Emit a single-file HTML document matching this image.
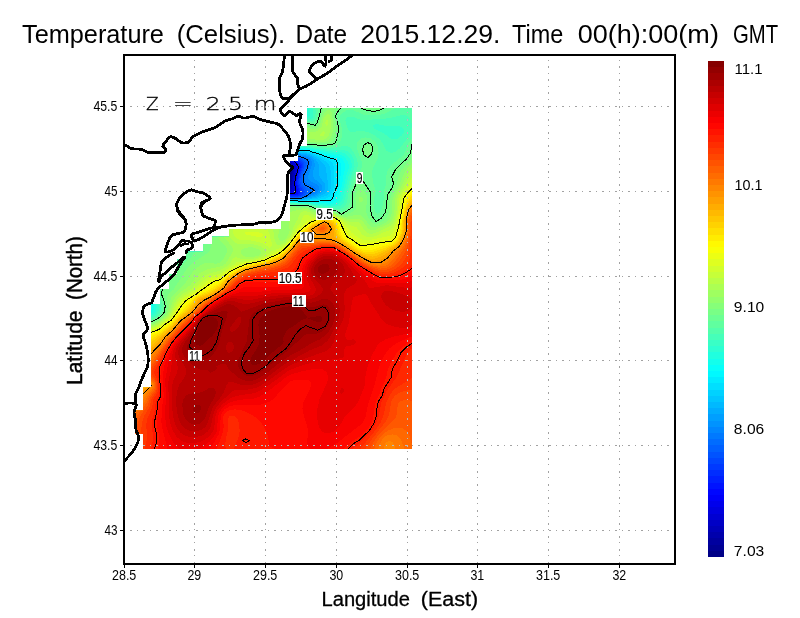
<!DOCTYPE html>
<html lang="en"><head><meta charset="utf-8"><title>Temperature (Celsius)</title>
<style>
html,body{margin:0;padding:0;background:#fff;}
body{width:800px;height:618px;overflow:hidden;}
svg{display:block;}
text{font-family:"Liberation Sans","DejaVu Sans",sans-serif;fill:#000;}
.tk{font-size:14px;}
.cb{font-size:14px;}
.cl{font-size:14px;stroke:#000;stroke-width:0.15px;}
.ti{font-size:26px;}
.ax{font-size:20px;stroke:#000;stroke-width:0.3px;}
.ay{font-size:21.5px;stroke:#000;stroke-width:0.45px;}
.z{font-size:18.5px;font-family:"DejaVu Sans","Liberation Sans",sans-serif;font-weight:200;stroke:#000;stroke-width:0.3px;}
.g{stroke:#a2a2a2;stroke-width:1;fill:none;shape-rendering:crispEdges;}
.g2{stroke:#b4bcbc;}
</style></head><body>
<svg width="800" height="618" viewBox="0 0 800 618">
<rect x="0" y="0" width="800" height="618" fill="#fff"/>
<defs><clipPath id="dm"><path d="M307 108 412 108 412 449 143 449 143 433.7 135 433.7 135 410.6 143 410.6 143 387.4 151 387.4 151 304.3 160 304.3 160 288.9 169 288.9 169 274.3 177.3 274.3 177.3 259.3 186 259.3 186 251.8 203.4 251.8 203.4 244.2 212.2 244.2 212.2 236.8 229.3 236.8 229.3 229 281.2 229 281.2 221 290 221 290 161 298.2 161 298.2 146 307 146z"/></clipPath></defs>
<g clip-path="url(#dm)" shape-rendering="crispEdges">
<rect x="130" y="104" width="286" height="349" fill="#000087"/>
<path fill="#000097" fill-rule="evenodd" d="M415 452.1l-285.1-0.1 0.1-286.7 1.5-2.1 0.2-2.2 1.3-1.2 3 1.6 3 0.4 1.1-0.8-3-3-6.5-4.5 0.9-0.9 1.5-0.1 1.5 1.4 1.5 0.1 6 6.1 2.2 0.9-3.5 1.5 1.3 1.5 1.5 0.3 0.1-1.8 1.4-1.4 4.5 2.4 1.8 2-0.3 0.5-1.5-0.1-1.2 1.1 2.7 1.6 4.5 4.5 1.5 0.4 5.9 4 1.6 0.3 4.3 4.2 1.7 0.3 4.5 3 4.4 4.2 1.6 0.3 4 2.7 1.7 0-1.2-3-1.5-0.9-3.1-3.6-4.4-2.2-2.3-2.3-2.2-0.4-9-6.9-1.5-1.9-1.5-0.5-3.7-3.8 0.7-0.6 3-0.4 1.7 1 4.3 1.1 3 2.2 4.5 1.9 3 2.3 7.5 3.9 4.5 3.6 3 0.6 0.3-0.6-1.5-3-3.3-3.2-12-5.4-12.2-7.9-4.3-2-5.2-4-3.8-1.5-1.5 0.6-1-0.6-0.5-1.1-1.5 0-6.4-4.9-2.6-0.8-1.5-1.3-4.5-2.1 0-3.7 1.1-1.1 0.5-1.5-1.6-2 0-5.3 1.5 0.3 6 2.9 1.5 0.2 1.5 1.2 1.5 0.1 1.8 1.1 2.7 0.6 14.8 6.9 3.2 0.6 1.5 1 7.9 2.9 8.6 0.4 3 1.2 15 2 7.5-1 9 2.5 3 2.6 7.5 4.7 3 3.4 3.1 2.2 1.3 1.5-1.1 3 1.7 1.5 13 5.6 4.5 2.7 4.5 4 3 1 3 1.9 3 0.7 6-0.9 12 0 3.8-1.5 2.2-4.1 0.8-3.4 0.2-6-0.8-4.5-2-3-4.2-3-4.5-1.5-12-2.4-0.9-0.6 0.2-3-5.3-1.8-6-6.4-2.2-3.8-0.2-6 0.9-0.8 6-0.7-2-10.5-0.8-3-3.6-6-1.4-4.5-6.5-7.5 168.8 0 0 348.1zM154 135.6l-1.4-0.1 1.4 0.1zM178 143.9l-4.5 0.1-3-1.5-9-0.8-3-1.4-3.6-3.3 2.1-0.5 3 1.2 7.5-0.2 3 0.5 4.5 1.5 2.8 2 1.2 1.5-1 0.9z"/>
<path fill="#0000a7" fill-rule="evenodd" d="M415 452.1l-285.1-0.1 0.1-280.5 1.2-1.5 1.8-4.5 0-4.6 7.5 2.1 1.5 1.4 1.5 0.3 0.6-0.7-0.1-1.5 1-1 4 2.5-1 1.6 0 1.7 4.5 3.1 3 2.9 9 4.9 4 3.8 2 0.6 4.5 3 4.2 3.9 7.8 4.3 2.1 0.2-0.9-1.5-2.1-3-4.6-4.5-3.5-1.8-3.1-2.7-2.9-0.7-7.5-5.7-3-3.2-3.4-2.4-0.8-1.5 2.7-0.5 1.5 0.9 3 0.6 9 4.8 4.5 3.3 4.5 1.9 7.5 5.5 3 0.9 1-0.9-2.4-4.5-5.8-4.5-10.8-4.7-11.5-7.3-5-2.6-4.5-3.4-4.5-2.3-3-2.2-3 0.2-0.9-1.7-2.1-0.6-7.5-4.9-1.7-0.5-1.3-1.2 0-0.6 1.5 0.1 1.2-1.3 0.5-1.5-0.3-1.5-2.9-3.1 0-3.8 19.5 7.8 10.8 5.1 4.2 1.2 9 3.7 7.5 0.4 4.5 1.3 13.5 1.4 1.5 0.6 6-1 6 0.9 4.5 1.8 3 2.6 7.8 5.1 1 1.5-0.5 3 2.7 1.5-0.2 1.5 2.9 3 13.9 6 9.9 7.3 9 3.4 6-0.7 12 0.1 4-1.1 2-3 1.5-6 0.4-7.5-0.4-3-1.7-3-2.8-2.7-11.9-4.8-3.1-1.7-1-1.3-8-3.9-6.1-6.6-1.1-3-0.3-3.7 1-0.8 5.2 0-2.5-12-0.9-3-2.9-4.5-2.1-6-7-7.5 168.2 0 0 348.1zM175 143.1l-4.5-1.8-7.1-1.3 4.1-1.6 6 1.4 2.9 1.7-0.3 1.5-1.1 0.1zM133 154.4l-1.8-0.9 1.8-0.5 0.5 0.5-0.5 0.9zM137.5 157.5l-1.5-0.5-2.6-2 1.1-0.7 1.5 0.2 2 2-0.5 1zM140.5 160.5l-1.5-0.9-1.2-1.6 1.2-0.8 2.2 2.3-0.7 1z"/>
<path fill="#0000b7" fill-rule="evenodd" d="M415 452.1l-285.1-0.1 0.1-278.3 4.5-5.1 0.3-1.6-0.7-3 0.4-1.7 3 0.2 3 1.2 1.5 1.1 1.5 0.2 1-1-0.1-1.5 0.6-0.6 3 2.1-0.6 3 3.5 3 1.6 0.7 4.5 3.8 7.5 4 3.8 3.5 2.2 0.9 4.5 3.1 4 3.5 11 6.2 1-0.2-0.1-1.5-8.8-9-4.1-2.1-3-2.7-3-0.8-7.5-5.6-5.7-5.3-0.3-1.5 1.5 0 1.5 0.9 3 0.6 9 4.7 4.5 3.4 4.5 1.8 4.5 3.8 7.5 4.5 1.5 0.7 1.5-0.4 0.1-0.5-4.7-7.5-6.4-4.5-11.5-5.1-18-10.8-10.5-7.4-6-2.1-5.2-3.1-1.3-1.5-0.2-6-3.8-3.9 0-2.7 18 7.2 13.5 6.3 12 4.4 7.5 0.5 4.5 1.2 12 1.1 3 1 1.5 0 3-1.1 6 0.4 5.3 2.1 5.7 4.5 1.4 1.5-0.4 3.2 6.5 7.3 7 3.7 10.5 4.4 9 7.3 12 3.7 18-0.7 3-0.7 1.5-1.2 0.6-1.5 1.3-6 1-9-0.7-4.5-3.7-4.6-10-4.4-2-1.6-10.9-5.9-5.9-6-2-4.5 0-1.5 0.8-0.4 4.5 1.2 0.7-0.8-3.9-15-3.4-6-2.2-6-4.7-4.4-2.4-3.1 167.4 0 0 348.1zM134.5 155.3l-0.5-0.3 0.5-0.3 1.4 0.3-1.4 0.3zM137.5 156.6l-1.5 0 0-1.3 1.5 1.3zM139 158.8l-0.6-0.8 0.6-0.4 0.4 0.4-0.4 0.8zM140.5 159.9l-0.6-0.4 0.6-0.2 0 0.6z"/>
<path fill="#0000c7" fill-rule="evenodd" d="M415 452.1l-285.1-0.1 0.1-272.2 1.5-0.8 0.2-3 4.3-4.8 0.3-4.2-0.7-3 0.4-0.6 3 0.4 3 1.5 1.5 0.1 1.3-1.4 0.2-1.7 2.5 1.7-0.4 3 2.4 2.3 3 1.6 4.2 3.6 7.8 4.4 3.6 3.1 6.9 4.3 3.7 3.2 11.3 6.9 1.5 0.6 2.5-1.5-5.5-4.4-5.9-6.1-4.6-2.4-3-2.7-3-0.8-7.5-5.7-4.9-4.9 0.4-0.5 6 1.5 7.5 4 4.5 3.6 6 2.7 3 2.9 6 3.3 3 2.4 3 0.9 1.2-1.3-2.7-6-3.4-3-7.1-4.6-12-5.4-6-3.5-12-7.3-10.5-8-6-2.1-3.4-2.1-2.3-7.5-4.4-4.5 1.1-0.8 1.5 0.4 4.5 2.1 10.5 3.7 13.5 6.3 3 0.7 9.8 4.1 8.2 0.3 3 1.2 12 0.8 3 1.1 1.5 0 3-1.1 6 0.4 4.2 1.8 3.2 3 1.4 1.5 3 6 5.6 6 18.6 9.4 3.4 2.6 1.1 2.6 1.5 1 15 4.3 19.5-0.7 3-0.8 1.4-1.9 2.5-16.5-0.4-4.5-1.9-3-3.1-2.9-7.5-3.2-4.5-2.9-6-3-4.1-3-4.4-4.5-1.2-3 4.3-1.5 0.1-1.5-2.6-7.5-1.2-6-3.8-7.5-1.6-4.5-2.2-3-3.6-3-2.4-3 166.7 0 0 348.1zM130 133.5l0-1.2 0.7 0.2-0.7 1z"/>
<path fill="#0000d7" fill-rule="evenodd" d="M415 452.1l-285.1-0.1 0.1-270.4 1.5-0.6 1.9-3.5 4.1-3.6 0.8-2.4-0.8-3 0.4-3 1.1-0.4 4.5 0.8 3-2.4 0.5 0.5-0.2 3 1.2 1.5 4.5 2.7 3.9 3.3 8 4.5 14.1 10.5 11.5 7.5 4.5 0.6 1.6 0.9 1.4-0.4 0.2-1.1-1.3-1.5-1.9-0.7-5.2-3.8-6-6-5.3-2.8-3-2.6-2.4-0.6-2.1-1.4-6.1-4.6-2.2-3 2.3-0.6 9 4.4 4.5 3.7 4.5 1.7 4.5 3.9 10.5 6.7 3 1.3 3.1-1.6-2.5-3-1.8-4.5-1.8-1.5-10.5-6.4-12-5.5-17.7-10.6-7.6-6-4.7-5.3-1.5-0.7-1.5 1-1.5-0.9-3.1-6.1 0.1-1.8-1.5-0.6-2.3-2.1 2.3-0.1 1.5 1.5 3 0 4.5 1.6 16.5 7.6 3 0.5 9 4.1 7.5 0.2 4.5 1.3 12 0.9 3 1.1 1.5 0 3-1.2 6 0.5 3.1 1.5 4.7 4.5 2.7 5.3 6 6.7 9 5.8 12 6.1 0.9 1.6-0.9 1.5 1.6 1.5 19.4 4.5 19.5-1 2.1-0.5 1.7-1.5 0.4-6 2.3-13.5-0.5-3.7-4.5-5.4-9-4.1-9-5.2-3.5-2.6-4.4-4.5-0.6-1.5 1-1.2 2-0.3 0.4-1.5-2.7-7.5-1.7-7.5-3.7-7.5-0.9-3-3.5-4.5-4.8-4.5-0.7-1.5 165.6 0 0 348.1zM133 134.3l-0.4-0.3 0.4 0.3z"/>
<path fill="#0000e7" fill-rule="evenodd" d="M415 452.1l-285.1-0.1 0.1-263.9 0.9-0.1 0.6-1 0.1-3.5 0.7-1.5 2.2-2.7 3.6-1.8 0.9-2.2 0.6-3.8-0.6-3 1-1.5 3.5-0.5 1.5-1 2.5 3 5 3 3.6 3 6.9 3.7 4.6 3.8 5.9 3.5 4.8 4 11.7 7.8 4.2 1.2 1.7 1.5 2 0 1.2-1.5-1.6-3.1-7.5-4.7-6.1-5.7-5.7-3-3.2-2.7-4.2-1.8-5.9-4.5-1.1-1.5-0.1-1.5 0.8-0.2 3 1.2 6 3.1 4.5 3.9 4.5 1.5 4.5 4.1 5.3 2.9 3.7 3.5 4.3 2.5 3.2-0.7 1.2-2.3-4.2-7.5-1.9-1.5-11.6-6.8-14.2-6.7-14.8-9-5.8-4.5-12.2-15 0.5-0.4 3 0.2 4.5 1.6 13.5 6.5 3 0.5 9 4.1 7.5 0.1 4.5 1.4 12 0.8 3 1.2 1.5-0.1 3-1.1 3 0 4.5 1.3 5.5 4.9 3.2 6 3.2 4.5 6.7 4.5 5.4 4.7 8.8 4.3 1.6 1.5-0.3 1.5 1 1.5 3.9 1.8 12 1.7 7.5 1.9 7.5-0.8 12-0.3 3-1.3 0.6-1.5-0.2-6 2.7-15-0.6-3-5.5-5.8-7.3-3.2-7.9-4.5-4.3-2.9-3.2-3.1-0.8-1.5 2-1.5 0.3-1.5-3.4-9-2.5-9-4-9-6.9-7.5-1.8-3 164.3 0 0 348.1z"/>
<path fill="#0000f7" fill-rule="evenodd" d="M415 452.1l-285.1-0.1 0.1-263 1.5 0.6 1.8-0.1 0.5-6 0.7-1 4.5-2.7 1.3-2.3 0.9-7.5 3.8-3.5 3.9 3.5 3.6 1.8 4.5 3.4 6 3.1 4.5 3.8 6 3.6 4.6 3.8 11.9 8 3 1 2.1 1.5 3.9 1 1.6-1-0.3-1.5-2.8-4-3.1-2-1.3-1.5-3.1-1.2-5.4-4.8-5.6-3-2.5-2.4-5-2.1-4-3.4-2.1-1.1-1.1-1.5 0.2-0.6 3 0.5 6 3 4.5 4.1 2.4 0.5 3.2 1.5 3.4 3.7 4.8 2.3 3 3 0.4 1.5 0.8 0.7 4.5 1.6 1.5-0.3 1.5 1.1 3 0.3 0.6-0.4-1.9-6-3.7-6-14.5-8.6-13.5-6.4-16.5-10.3-5.1-4.7-2.9-4.5-6.5-7.5 1-1 7.5 2.5 10.5 5.1 3 0.5 9 4.2 7.5 0.1 4.5 1.3 12 0.9 3 1.1 4.5-1.1 3 0 4.5 1.4 5.9 6 2.6 6 0.5 3 4.5 1.9 4 2.6 6.3 6 8.1 4.5 2.6 3.7 4.5 2 13.5 1.9 6 1.6 7.5-0.9 12 0 3.4-0.8 1.3-1.5-0.6-7.5 1.1-7.5 1.9-7.5-0.4-3-5.6-6-14.4-7.5-4.3-3-2.9-3 1.2-3-3.7-9-2.5-9-3.8-9-7.7-9-1.6-3 163.1 0 0 348.1z"/>
<path fill="#0008ff" fill-rule="evenodd" d="M415 452.1l-285.1-0.1 0.1-262 4.9 2.5 1-7.5 3.1-2 0.7-1 2.4-4.5 0.2-4.5 4.2-4.1 6 3.2 4.5 3.3 6 3.1 4.5 3.7 6 3.6 4.5 3.8 12 8.1 3 1.1 4.5 2.6 3 0.9 1.8-2.3-2.3-3-1.2-3 3.2 0 7.5 1.8 1.6-0.3-2.2-1.5-0.8-3-3.8-7.5-1.7-1.5-17.1-9.7-11.1-5.3-16.7-10.5-4.1-4.5-4.1-6.9-4-3.6 1-1 3.7 1 11.3 5.4 3 0.5 9 4.3 7.5-0.1 3 1.2 9 0.5 7.5 1.7 4.5-0.8 3 0 3.5 0.8 5.5 5.2 1.6 3.8-4.2 3 2.6 1.1 5 3.4 4 1.1 3 1.9 3.4 3 2.6 3.3 7.5 4.8 3 3.3 6 2.5 19.5 3.4 9-0.8 13.4 0 3-1.5 0.4-1.5-1.3-6-0.1-3 1-6 2.2-7.5-0.1-3-2-2.8-3.6-3.2-14.4-7.9-4.8-4.1-0.8-1.5 0.3-1.5-0.5-1.5-3.5-7.5-3.2-10.5-3.8-9-5.3-6-3.8-6 161.9 0 0 348.1zM145 140.3l-0.7-0.3 1 0-0.3 0.3zM175 178.4l-3-1-4.5-3.9-1.5-0.5-0.4-1.5 7.3 3 3.4 3-1.3 0.9zM187 185.6l-7.1-3.6-2-1.5 0.1-1.1 1.5-0.3 3.7 1.4 4.5 4.5-0.7 0.6zM191.5 189.1l-1.5-0.1-2.4-2.5 0.9-1 2.5 1 1.6 1.5-1.1 1.1z"/>
<path fill="#0018ff" fill-rule="evenodd" d="M415 452.1l-285.1-0.1 0.1-260.7 2.3 1.2 3.7 3.3 0.9-0.3 0.6-1.5 0-6 1.5-2 1.6-1 1.3-4.5 1.6-1.5 0.7-1.5 0-3 3.8-3.8 4.5 1.8 3 2.3 7.5 3.8 4.5 3.8 6 3.5 4.5 3.8 12 8.2 3 1.1 6.5 4 2.1 0 2.2-1.5-0.1-1.5-2.9-3-0.6-1.5 0.3-0.4 1.5-0.3 10.8 2.2-1.8-4.4-2.3-3.1-0.7-3 1.5-0.8 1.5 0.1 0.8-0.8-2.3-1.8-4.5-0.7-3-1.4-15-8.6-11.7-5.5-12.3-7.5-5.2-4.5-5.5-9-3.9-3 1.1-1.1 12 5.3 2.5 0.3 3.7 1.5 5.8 3 7.5-0.2 3 1.2 8.8 0.5 7.7 2.1 4.5-0.9 4.8 0.3 4.1 3 2.1 3 0 1.5-0.5 0.2-6 1.3 0 1.5 1.5 3 7.5 2 3 1.6 3.6 0.9 3.9 2.5 3 2.6 3 3.8 4.7 3.1 1.3 2.1 3 2.9 13.5 3.5 13.5 2 9-0.8 15 0 2.2-0.7 1-1.5 0-1.5-1.8-6-0.2-3 1-6 2.6-9-0.8-3-7-6-12.9-7.5-2.4-3-6.5-12-2.6-9-4.6-10.5-5.5-6.2-3.3-5.8 160.8 0 0 348.1zM148 142.5l-1-1 2 0-1 1zM173.5 177.5l-3.6-3 2.1-0.1 2.2 1.6-0.7 1.5zM175 177.8l-1.4-0.3 1.4-0.5 0.4 0.5-0.4 0.3zM184 183.7l-5.1-3.2 0.6-0.5 3 0.4 1.8 1.6 0.4 1.5-0.7 0.2zM188.5 186.6l1.4-0.1-1.4 0.1zM191.5 188.3l-1.9-0.3 0.4-1.5 1.8 1.5-0.3 0.3z"/>
<path fill="#0028ff" fill-rule="evenodd" d="M415 452.1l-285.1-0.1 0.1-257.4 1.5-0.2 6 3.8 1.3-1.2 0.6-7.5 1.1-1.3 1.5-0.4 0.8-1.3 0.1-3 0.6-1.3 3-0.7-0.4-4 0.4-1.5 1.5-1.5 0.2-1.5 1.3-1.1 3 0.9 3 2.4 7.5 3.6 4.5 3.7 6 3.5 4.5 3.9 12 8.2 3 1.2 7.5 4.5 1.5 0.1 3.6-2.4-0.5-1.5-3.1-3 1.5-1 4.5 0.4 6 1.5 1.5-0.3 0-1.1-1.5-1.3-1-2.7-2.2-3 1.7-1 3 0.6 2.9-1.1-3.9-3-2-0.7-3-2.1-7.5-1.7-22.5-12.8-3-0.8-2.2-1.4-1.5-1.5 2-1.5-0.1-4.5-5.7-2.2-4.5-2.5-0.8 0.2 3 3 1.6 3-0.8 1.2-2.7-1.2-1.9-1.5-3.3-4.5-1.6-4.5-2.5-1.5-3.3-3 0.3-0.3 2.2 0.3 3.8 1.9 8.2 2.6 6.8 3.9 7.5-0.7 3 1.1 7.5 0.3 6.3 1.4 2.7 1.2 4.5-0.4 2.6 0.7 1.1 1.5 0.2 1.5-2.2 3 2.5 6 4.8 2.4 4.5 0.4 10.5 5.3 2.8 2.4 2.3 3 4.2 3 2.8 4.5 2.9 2 21 4.2 6 0.3 10.5-0.7 15 0.2 2.8-1.5 0.6-1.5-2.5-7.5-0.3-3 0.8-6 2.9-9-0.5-3-2.8-3-16.4-10.5-4.1-4.5-5.1-9-3.3-10.5-4.7-10.5-6.4-7.5-2.3-4.5 159.8 0 0 348.1zM169 161.2l-1-0.2 1-0.5 0 0.7zM181 180.7l-0.4-0.2 0.4 0.2zM182.5 182.3l-0.5-0.3 0.5-0.7 1 0.7-1 0.3z"/>
<path fill="#0038ff" fill-rule="evenodd" d="M415 452.1l-285.1-0.1 0.1-228.4 1.4-1.1 0.4-1.5-0.6-1.5-1.2-1 0-16.8 1.5-2.6 1.5-0.8 6 1.8 0.7-0.1 0.8-1-0.3-3.5 0.4-1.5 1.4-2.4 2.1-2.1 0.9-3.9 3-1.3 0.5-0.8-0.1-4.5 1.7-3-0.2-3 1.9 0 3.7 2.5 7.5 3.4 4.5 3.8 6 3.5 4.5 3.8 12 8.4 3 1.1 7.5 4.9 3 0.1 2.7-1.5 0.8-1.5-0.8-1.5-2-1.5-0.7-1.5 3-0.3 7.5 2 3.7-0.2-0.7-3 1.1-1.5-0.8-1.5 2.7-2.2 6-0.5 0.4-0.3-0.6-1.5-2.8-1.4-6-0.9-4.5-2.2-3-2.2-5.6-0.8-3.5-1.5-10.4-6-3-2.4-2.2-0.6-2.2-1.5-1.8-3-1.3-0.7-3-3.8 0.2-1.5 1.7-3-1.9-1.4-1-1.6 5.5-0.8 3 1.1 7.5 0.3 4.2 0.9 4.7 3 2.8 3 0.2 3 6.2 6 4.4 1.8 4.5 0.4 10.5 5.7 3.9 4.1 4.1 3 1.2 1.5 0.5 3 5.3 3 10.5 1.6 10.5 2.6 16.5-0.7 12 0.4 4.5-0.5 3-1.9 0.5-1.5-3-7.5-0.5-3 1.2-7.5 2.6-7.5-0.2-3-2.4-3-16.7-10.5-4.3-4.5-5.2-9-3.3-10.5-4.1-9-1.9-3-5.2-6-2.3-4.5 158.8 0 0 348.1zM170.5 155.1l-7.5-3.9-4.7-3.7 6.2 1 4.3 2 2.9 3-0.5 1.5-0.7 0.1z"/>
<path fill="#0048ff" fill-rule="evenodd" d="M415 452.1l-285.1-0.1 0.1-225.5 1.5-0.3 1.5-1.2 0.8-2.5-3.8-7.8 0-6.6 4.5-6.3 3-0.3 3 1.5 1.5 0 0.5-1.5-0.5-4.7 1.5-2.5 1.9-1.8 1.5-4.5 1.1-1 1.5 0 0.7-0.5-0.1-3 1.5-4.5 0.4-4.5 6.5 2.3 4.5 2.3 4.5 3.7 6 3.5 4.5 3.9 11.9 8.3 3.1 1.3 9 5.4 3-0.2 3.1-2 0.1-1.5-2.6-3 0.9-1 1.5 0 7.5 1.9 4.5 0.2 1-1.1-0.4-1.5 0.7-4.5 9.2-1.1 9 0.6 7.5 2.3 9 1.1 9 2 18-0.8 10.5 0.4 4.5-0.4 3.2-1.1 1.5-1.5 0.4-1.5-0.2-1.5-3.2-6-0.6-3 0.6-6 3.3-9-0.5-4.2-3-2.8-13.8-8-3.7-3-3.5-4.1-4.5-7.9-3.3-10.5-4.1-9-7.6-9.8-1.5-3.7 157.5 0 0 348.1zM167.5 152.2l-5.5-3.2 2.5-0.1 1.5 1.2 1.8 0.4 0.2 1.5-0.5 0.2zM230.5 189.3l-1.5-0.2-1.5-1.6-3-1.8-6.9-0.7-9.6-5.1-5.8-0.9-2.3-1.5-6.9-4.9-7.2-8.6-1.8-0.8-2.7-2.2 1.2-0.3 0.7-2.7-4.9-4.5 2.7-0.2 3 1.1 9 0.4 3.4 1.7 1.8 1.5 2.2 3-0.9 1.5 1 2.6 3 1.1 4.9 3.8 4.1 2.1 5 0.9 2.5 1.1 4.5 3.1 3.9 1.8 3.6 3.9 3.2 2.1 0.7 1.5-3.9 1.1-1.5 1.7zM202 174.5l0.1-1.5-0.9-1.5-4-1.5-0.3 1.5 0.9 1.5 2.7 1.8 1.5-0.3z"/>
<path fill="#0058ff" fill-rule="evenodd" d="M415 452.1l-285.1-0.1 0.1-221.7 4.5-2.7 1.5-2.1 0.2-1.5-4.2-9-0.5-1.5 0.4-1.5 4.1-6 3-0.7 3 0.8 1.5-0.2 0.8-2.9-0.6-4.5 3.6-4.5 1.2-3 1-1 3.3-0.5-0.8-4.5 1.1-3 0.4-4.5 0.5-1 4.5 0.5 4.5 2.3 4.5 3.7 6 3.4 4.5 3.9 12 8.4 1.5 0.4 9 5.8 3 1.2 3-0.2 1.5-1 1.4-1.9 0-1.5-2.3-3 2.4-0.2 6 1.6 7.5 0.8 1.5-0.7-0.7-1.5-0.1-3 0.8-1.3 1.2-0.2 7.8-0.6 7.5 0.3 7.5 2.1 18 2.4 9-0.2 7.5-0.9 13.5 0.3 3-0.4 3.4-1.5 1.4-1.5 0.6-1.5-0.1-1.5-3.8-6-0.8-4.5 0.9-6 3.1-7.5-0.1-4.5-1.1-1.5-2.1-1.5-5.9-2.5-8.2-5-3.6-3-3.9-4.5-4.3-7.5-2.7-9-3.9-9-7.4-10.5-1.4-4.5 155.4 0 0 348.1zM199 167.9l-6-1.7-8.3-5.2 0.4-3-0.4-3 6.8 0 3 1.5 2.2 3-0.8 1.5 0.7 1.5 1.8 1.5 2.1 3-1.5 0.9zM223 183.6l-3 0.5-3-0.5-4.5-2.3-6-4.1-1.5-1.6-3-6.4-1.5-0.7 0.6-1.5 0.9 0 1.7 1.5 7.3 3.7 6.7 2.3 6.8 4.6 3 1.2 0.8 1.7-3.8 0.3-1.5 1.3z"/>
<path fill="#0068ff" fill-rule="evenodd" d="M415 452.1l-285.1-0.1 0.1-199.9 1.5-1.9 0.6-2.2-0.9-7.5-0.6-1.5 0.2-3 2.2-4.2 3-1.8 1.4-1.5 0.9-3-3.9-9-0.2-1.5 3.3-5 3-1 3 0.3 1.5-0.5 0.9-2.8 0-6 2.1-3.6 1.7-0.9 1.3-2.7 3-0.9 0.3-0.9 0.2-4.5 0.8-1.5-0.2-4.5 1.3-3 0.6-0.1 1.5-0.1 4.5 2.3 4.5 3.5 6 3.5 4.5 3.9 12 8.3 1.5 0.5 10.5 6.8 4.5 1.3 1.5-0.3 2.7-4.1-0.2-1.5-1.5-1.5 0.5-0.7 13.5 2.5 3 0 1-0.3-0.4-1.5 0.3-1.5 1.2-1.5 0.9-0.9 3-0.8 10.5 0 7.5 2 18 1.6 7.5-0.2 7.5-1.1 15 0.1 3.8-0.7 2.8-1.5 1.5-1.5 1-3-0.6-1.5-4-4.8-0.8-2.7-0.2-3 0.8-4.5 3.3-7.5 0.5-3-0.6-2.4-2.1-2.1-8.4-3.3-7-4.2-3.7-3-4-4.5-4.3-7.5-2.7-9-4-9-6.2-9-1.4-6 153.3 0 0 348.1zM197.5 165.9l-2.7-0.4-2.7-1.5-0.6-0.8-4.5-2.2-0.5-1.5 0.5-0.5 0.9 0.5 3.6 2.7 3-0.1 3 2.7 0.4 0.7-0.4 0.4zM214 179.3l-1.5-0.3-6-4.2-1.5-1.9-0.4-1.4 0.4-0.6 2.9 0.6 5.9 3 1.3 1.5 0.4 1.5-0.5 1.5-1 0.3z"/>
<path fill="#0078ff" fill-rule="evenodd" d="M415 452.1l-285.1-0.1 0.1-195.6 3-3.9 0.9-3-0.6-12 1.5-3 4.2-3.6 1.5-2.4 0.3-1.5-3.6-7.5 0-3 1.8-2.7 7.9-3.3 1.2-3-0.4-4.5 1-3 0.8-0.9 2.1-0.6 1.6-3 2.6-1.5 0.1-3 1.7-4.5-0.3-3 0.7-3-0.2-1.5 0.7-1.1 4.5 2 3 2.4 7.5 4.5 4.5 3.8 11.3 7.9 6.7 3.7 3 2.3 3 1.8 6 1.9 4-3.7 0.2-1.5-0.6-1.5 0.9-1.2 15.4 2.7 1.1-0.5 0.7-2.5 0.8-0.8 4.5-2.2 9-0.2 6 1.9 3 0.3 15 0.7 7.5-0.3 7.5-1.3 12 0.2 6-0.5 2.6-0.8 4.6-3 2.7-3-0.2-1.5-5.8-4.5-1.5-3-0.3-3 0.7-4.5 2.4-4.5 1.4-4.5 0.3-3-0.5-1.5-1.3-1.5-2.1-1.1-9-2.9-3.6-2-6.1-4.5-3.9-4.5-4.4-7.5-2.8-9-4.1-9-5-7.5-1.5-7.5 151.4 0 0 348.1z"/>
<path fill="#0087ff" fill-rule="evenodd" d="M415 452.1l-285.1-0.1 0.1-190.6 5.5-8.9 0.5-7.5-0.8-4.5 0.5-1.5 1.7-3 3.4-3 2.5-4.5-3.4-6-0.4-3 1-1.5 3-1.3 1.6-1.7 2.9-1.6 2.2-4.4-0.2-3 1-2.9 3-2.2 3.8-3.9 0.4-1.5-0.3-3 1.3-3 0.8-9.9 3 0.6 3 2.4 7.5 4.4 4.5 3.7 12 8.4 6 3.2 6 4.3 6 2.4 1.5-0.3 4.5-3.7-1-3.5 1-0.3 15 2.6 2.8-0.8 0.2-1.6 4.5-2.4 9-0.5 6 2 12-0.5 6 0.5 7.5-0.5 7.5-1.5 15.2 0 4.3-1 4.5-2 5.6-3 1.9-2 0-2.5-1.7-1.5-7.1-3-1.8-3-0.1-4.5 3.9-9 0.7-3-0.3-3-1-1.5-2.1-1.5-10-2.7-4.5-2.1-5.6-4.2-4-4.5-4.3-7.5-3-9-3.4-7.5-3.9-6-2.8-10.5 150 0 0 348.1z"/>
<path fill="#0097ff" fill-rule="evenodd" d="M415 452.1l-285.1-0.1 0.1-186 1.5-1.6 5.9-10.4-0.1-4.5 0.8-3-0.6-4.6 2.6-4.4 5-6 0.4-1.5-1-3-2.2-3-0.2-1.5 2.9-2.1 2.1-2.4 2.6-1.5 2.5-6 0.3-4.1 4.4-3.4 3.1-4.4 0.5-4.6 1-1.5-0.1-4.5 0.7-1.5-1.1-6 2-0.1 3 2.6 7.5 4.2 15.4 11.3 7.1 4 6 4.3 5.1 2.2 2.4 0.4 1.9-0.4 4-3-0.5-3 0.6-0.8 1.5-0.1 13.5 2.6 3-0.4 3-2.5 1.5-0.5 7.5-1.2 4.5 1.6 4.5 0.1 9-0.8 7.5 0.2 6-0.6 7.5-1.6 16.5-0.2 6.6-1.8 7.4-3 2.2-1.5 1.8-3-0.3-3-1.2-1.5-7.5-4.2-1.5-1.8-0.2-3 3.9-12-0.5-3-0.9-1.5-1.6-1.5-3-1.5-9.7-1.9-3-1.3-4.3-2.8-4.7-4.5-4.8-7.5-3.7-10.5-6.7-13.5-0.9-6-2-4.5 148.6 0 0 348.1z"/>
<path fill="#00a7ff" fill-rule="evenodd" d="M415 452.1l-285.1-0.1 0.1-181.8 3-3.4 6-10.6 0.1-5.2 1-3-0.1-4.5 2.7-4.5 5.3-6.1 0.4-1.4-1.9-3.2-0.6-2.8 3.6-4.9 2.4-1.1 1.8-6 0.6-4.5 4.2-2.8 3.6-4.7-0.1-3 1.3-3 1-6-0.8-4.5-1.1-3 0.6-0.5 1.1 0.5 8 4.5 16.6 12 7.3 4.1 6 4.4 4.5 2.1 6 1.6 1.5-2 3-1.2-0.7-3 0-1.5 0.7-0.2 15 2.7 7.3-1 2-1.5 4.2-0.8 6 0.9 13.5-1.2 6 0.2 13.5-2.7 18-0.4 13.5-3.9 3.7-2.6 2-3 0.3-3-0.6-1.5-2.4-2.7-4.4-3.3-1.8-3 0.4-4.5 1.8-6-0.9-4.5-2.6-3-3-1.8-3.5-1.2-8.5-1.2-3-1.2-4.5-3.1-3.5-3.5-4.8-7.5-3.2-9-5.6-12-1.3-7.5-2.3-6 146.7 0 0 348.1z"/>
<path fill="#00b7ff" fill-rule="evenodd" d="M415 452l-285.1 0 0.1-173.3 2.4-3.7 1-4.5 2.1-3 5-9.9 2-11.1 1.7-4.5 3.8-4.8 3.2-2.7-0.1-1.5-2.1-4.5 0.3-1.5 1.7-2.8 3.1-1.7 1.7-6-0.1-4.5 4.3-2.8 4.5-5.2-0.2-4 1.8-3 0.2-4.5-1.6-7.5 1.3-0.9 3 0.8 19.5 13.6 7.5 4.3 6 4.4 10.5 4.3 1.5-0.4 1.5-1.7 3-1 0.7-0.9-0.2-1.5-1.3-1.5 0.8-0.5 4.5 0.3 7.5 1.8 9 0 9-1.6 10.5-0.1 6-1.3 7.5-0.4 13.5-3 16.5-0.2 12-2.5 3-1.1 4.9-3.4 2.4-3 0.6-3-0.8-3-4.3-6-1.2-3 0.2-9-1.4-3-2.2-3-4-3-3.2-1.6-4.5-1.1-7.5-0.7-3-1.2-5.6-4.4-3.6-4.5-2.5-4.5-8.5-21-0.4-6-2.3-7.5 144.4 0 0 348z"/>
<path fill="#00c7ff" fill-rule="evenodd" d="M415 452l-285 0 0-152.5 1.4-3.5-0.7-9 2.6-7.5 2.1-4.5 0.4-3 5.3-10.5 3.5-10.5 0.2-3 1.7-4.4 3-3.8 3.4-2.3 0.9-1.5-2-6 1.2-3 3.4-3 1.6-6 0-3 0.5-0.9 3-1 5.5-7.1 1.1-4.5-0.1-7.5-1.4-7.5 0.9-1.5 6 2.8 4.5 3.8 10.5 7.2 7.6 4.2 5.9 4.5 10.5 4.6 1.5 0.2 1.5-0.3 0.9-1.5 3.8-1.5 0.7-1.5-0.2-1.5 0.8-1 9 1.6 6 0.4 21-1.1 15-2.4 13.5-3.4 15.5-0.1 13-1.9 4-1.1 5.6-3 2.4-2 1.5-2.5 0.5-4.5-1.9-10.5-0.5-6-0.9-3-1.3-1.5-7.1-6-6.8-3.6-4.5-1.3-9-0.8-3-1.2-4.6-3.6-3.6-4.5-3.2-6-6.8-18-0.3-6-2.1-9 142.1 0 0 348z"/>
<path fill="#00d7ff" fill-rule="evenodd" d="M415 452l-285 0 0-144.9 2.2-2.1 1.9-4.5 0.7-6-0.9-4.5 0.7-4.5 3.4-9 0.9-4.5 8-19.5 1.3-6 2.8-3.9 3.4-2.1 1.4-1.5 0.2-1.5-1.6-6 0.4-1.5 0.7-1.5 3-2.1 2.2-8.4 0.8-0.9 3-0.7 4.5-7.4 1.7-4.5-1.3-7.5 0-7.5-0.4-1.5 1.5-0.9 2.7 0.9 4.8 3.9 10.5 7.1 7.5 4.1 6 4.6 10.5 4.7 3 0.6 1.5-1.1 3.8-1.4 1.9-1.5 0.6-1.5-0.3-1.6 13.5 1.9 15-0.2 7.5-0.7 13.5-2.7 13.5-3.7 16.5-0.1 15.6-1.9 8.4-2.9 1.8-1.6 1.7-3 1.3-4.5 0.2-4.5-1.1-13.5-1.7-4.5-3.8-3-8.9-5.2-9-3.4-12-1.3-3.3-2.1-3.1-3-4.8-7.5-6.6-18-1.8-16.5 139.6 0 0 348zM169 188l0-1.6 0 1.6z"/>
<path fill="#00e7ff" fill-rule="evenodd" d="M415 452l-285 0 0-141 4.3-3 3-4.5 0.8-7.5-1-6 1.3-7.5 1.9-4.5 0.8-4.5 3.2-7.5 0.7-3.2 4.6-10.3 1-4.5 1.9-2.4 4.5-3.1 1.3-2 0.3-1.5-1.8-4.5 0.2-1.7 0.9-1.3 2.1-1.3 0.9-1.7 2.5-9 3.8-1.5 1.8-3.2 1.7-1.3 2.1-6 0.5-7.5-1.6-3 0.9-4.5-0.9-3 0.3-1.3 9 5.5 7.5 5.6 7.5 4 6 4.6 13.5 5.8 2.7-0.2 4.8-2.4 2.1-2.1 0.9-1.8 10.5 1.3 16.5 0.2 7.5-1 12-2.8 13.5-4 18-0.2 13.5-0.9 8.8-1.3 3.2-1.5 1.5-2.6 2.5-6.4 1-4.5-0.8-16.5-1.2-4.1-2.4-1.9-9.2-4.5-11.6-4.5-14.3-1.7-5.4-4.3-4.1-6-4.7-12-1.9-7.5-0.4-10.5-1.1-6 137.6 0 0 348z"/>
<path fill="#00f7ff" fill-rule="evenodd" d="M415 452l-285 0 0-138.2 8-4.3 1.7-1.5 1.8-3 0.4-4.5-1.6-9 0-3 2.9-13.5 4.4-12 3.3-6 2.3-7.5 5.3-4.1 2.2-3.4 0.3-3-1.2-3 2.3-3 1.5-4.5 1.9-3 0.6-3 4.4-2.7 3-4 0.3-2.3 2-4.5 0.4-3-1.2-4.5 0.1-4.5-1-6 0.9-0.3 6 3.3 7.5 5.5 7.5 4 6 4.7 12 5.4 4.5 1.1 1.5-0.1 1.1-1.1 3.4-1.4 3-3.3 1.5-0.5 9 1 15 0.5 10.5-1.7 15-4.2 7.5-2.6 42-0.9 3-1 1.7-2.4 4.7-13.5-0.3-18-0.4-3-0.8-1.5-2.2-1.5-25.2-8.7-12-0.9-3-1.4-2.8-2.5-4.2-6-4.1-10.5-1.7-7.5 0.1-10.5-1.3-7.5 135.5 0 0 348z"/>
<path fill="#08fff7" fill-rule="evenodd" d="M415 452l-285 0 0-135.5 12.2-5.5 2.1-1.5 1.9-3 0-3-2.9-13.5 0.2-4.5 1.9-9 3.6-10.5 3.7-6 2.3-7.5 5-4.1 2.6-3.4 1.3-3-0.4-4.5 4.4-10.5 2.6-3 6-5.3 1.4-5.2 0.3-4.5-1.2-7.5 0.1-3-1.1-4.5 0.3-1.5 3.7 1.5 8.5 5.8 7.5 4 6 4.6 12 5.5 6 1.6 1.5-0.1 3.8-1.9 5.2-3.9 24 1.1 10.5-1.9 22.5-7.4 42 0.7 3-1.1 2.2-2.5 4.6-12 0.7-3 1.2-16.5-0.2-3-1-3-1.5-1.8-3-1.7-7.5-1.6-19.5-5.9-12-1-4.5-2.8-4.5-6.2-3.8-10.5-1.2-7.5 0.7-9-1-9 132.8 0 0 348z"/>
<path fill="#18ffe7" fill-rule="evenodd" d="M415 452l-285 0 0-132.1 4.5-3 12-4.5 2.5-1.4 1.2-1.5 0.5-1.5-0.3-3-4.2-13.5 0.1-6 1.3-7.5 3.4-10 3.2-5 4.2-9 4.6-4.2 3-5 0.6-1.3-0.1-4.5 1.2-3 2.8-3.8 3-6.4 1.5-0.5 3-2.2 1.2-2.1 1-6-1.1-13.5-0.1-4.5 0.5-1.5 1.5-0.1 3 2.1 7.5 3.7 10.5 7.4 12 5.6 9 2.4 6-3.5 6-2.4 18 1 7.5-0.7 6-1.5 21-7.7 21 0.4 21 1.4 4.5-1.3 1.5-1 1.9-2.8 4.7-13.5 1.2-9 1.9-7.5 0.1-3-1.4-4.5-2.5-3-4.4-2.2-9-1.6-19.5-5-12-1.1-3.4-2.1-2.6-3-2.7-4.5-2.8-9-0.7-6 2.2-19.5 128.5 0 0 348z"/>
<path fill="#28ffd7" fill-rule="evenodd" d="M415 452l-285 0 0-129.6 7.5-4.5 13.5-4.6 1.5-1.2 1.5-2.4 0.2-1.7-0.6-3-3.6-9-1.2-4.5-0.1-4.5 1-7.5 1.7-6 2.2-4.5 7.1-12 4.2-4.5 4.1-6.4 0.7-2.6-0.3-3 3.2-4.5 3-6 3.9-2.8 1.1-1.7 1.3-4.5 1-7.5-0.6-3 0.6-4.5-0.8-4.5 0.4-1.5 1.5-0.8 1.5 0.1 3 1.5 3 0.7 10.5 7.4 13.5 6.1 4.5 1.6 4.5 0.7 1.5-0.2 4.5-2.8 6-1.9 6-0.7 13.5 0.9 9-1.3 22.5-9 21 0.5 21 2.1 6-1.3 2.8-2.1 1-1.5 4.6-13.5 2.2-10.5 2.7-7.5 0.2-3-1.4-4.5-3.1-4.1-4.5-2.5-12-1.8-19.5-4.2-10.5-0.9-3-1.2-2.1-1.8-2.4-3.1-2.3-4.4-1.6-6-0.6-6 2.7-12 4.4-6 0.5-3 121.4 0 0 348z"/>
<path fill="#38ffc7" fill-rule="evenodd" d="M415 452l-285 0 0-127.5 9-5 12.3-4 2.7-1.6 2.2-2.9 0.4-4.5-4.1-10.5-1.2-4.5-0.1-6 1-6 3.3-8 6.6-10 7-9 3.3-6 1.1-3.9 2.5-5.1 2-3.1 4.5-4.8 0.8-4.1 2.7-6 0.3-1.5-0.5-3 0.9-3-0.3-4.5 1.3-4.5 0.8-1.3 1.8-0.2 5.7 2.9 4.5 4.1 12 5.6 7.5 2.9 6 1.4 2-0.4 4-2.6 10.5-2.6 13.5 0.8 10.5-1.5 21-9.3 21 0.6 15 2.2 7.5 0.5 4.5-0.6 2.8-1 3.2-3.3 1.6-4.2 5-19.5 3.8-10.5-0.1-3-0.8-3-2.6-4.5-3.6-3-3.3-1.2-12-1-19.5-3.5-12-1.2-3-1.5-1.5-1.4-4.1-6.7-1.5-6-0.1-6 1.2-4.5 1.5-3.3 1.5-2 3-1.5 3-0.3 3 0.3 7.5 3.5 1.7-1.2-0.2-3.3-1.5-3.5-5.2-5.2 111.7 0 0 348z"/>
<path fill="#48ffb7" fill-rule="evenodd" d="M415 452l-285 0 0-125.5 9-5 15-5.5 2.5-2 2-3 0.5-3-0.5-3-3.7-9-1.1-4.5-0.2-6 0.9-4.5 3.5-7.5 13.7-18 1.9-3.7 2-2.3 3.1-7.5 3.9-5.6 3-6.5 1.5-1.1 0.9-1.8 1.7-4.5 0.1-15 1-4.5 0.8-0.1 3.7 1.6 6.8 5.3 6.1 2.2 4.4 2.4 6 2.4 9 2.4 1.5-0.1 4.5-2.4 9-2.5 4.5-0.5 10.5 0.8 9-1.3 4.5-1.5 10.5-5 4.5-2.8 3-0.8 19.5 0.9 13.5 2.5 9 0.7 9-1 3.5-3.2 1.7-4.5 4.8-19.5 4.6-12-0.4-6-1.9-4.5-1.8-2.5-3-2.8-4.5-1.5-13.5 0.1-21-3-9-0.8-3-1.1-2.3-1.9-3.5-6-1.3-6 0-4.5 1.4-4.5 2.7-3.7 3-1.1 3-0.2 7.5 2.1 3 0.3 1.5-0.6 1.2-1.3 0.6-3-0.2-3-2.1-7.5 104 0 0 348zM397.7 138.5l3.9-3 1.9-3 0.1-3-0.7-1.5-1.4-1.1-3-0.8-12 0-9-2-1.5 0-2.4 0.9-0.6 1.5 1.5 2.1 9 4.4 7.5 5.7 3 0.7 3.7-0.9z"/>
<path fill="#58ffa7" fill-rule="evenodd" d="M415 452l-285 0 0-123.5 9-5.3 15-5.5 3.3-2.2 2.6-3 1-3 0-3-4.6-13.5-0.4-6 0.9-4.5 3.1-6 7.6-9.7 2.7-2.3 1.8-2.4 2.9-2.1 1.4-4.5 3.2-3.4 1.5-4.1 3.7-4.5 2.9-9 3.9-3.7 1.1-6.8 0-13.5 0.8-4.5 1.1-0.5 1.5 0.4 4.5 4.2 6.7 1.9 11.3 5.2 7.5 2.4 4.5 0.5 6-2.6 9.3-2.5 5.7-0.3 6 0.9 10.5-1.5 5.2-2.1 8.3-4.4 4.5-3 3-0.8 18.6 0.7 15.9 3.3 16.5 1 3-1.2 3-3.5 1.1-2.6 1.7-10.5 2.9-10.5 5.4-12 0.7-3-0.1-3-1.2-4.5-4.5-8.4-3-2.8-3-1-3 0.1-7.5 2-4.5 0.4-30-3-2.8-0.8-2.4-1.5-2.3-2.8-1.5-3.2-1.1-6 0.4-4.5 1.2-3 2.5-2.8 3-1.1 3-0.1 7.5 1.4 3 0 1.5-0.5 1.4-1.4 1.4-6-0.8-9 100 0 0 348zM394.7 152l2.3-1.2 3-2.7 9-12.1 1.7-3.5 0.9-4.5-0.1-4.5-1.4-4.5-2.6-3-3-1-3 0.1-13.5 3.3-13.5 0.8-9 1.3-4.5-0.4-7.5-3.1-3-0.5-3 0.7-1.5 1.4-0.6 1.9 0.6 3.7 3 6.7 1.5 1.5 10.5-1.6 4.5 0.7 3 1 6 3 4.5 3.1 2.5 2.9 5 9 1.5 1.4 3 1 3.7-0.9z"/>
<path fill="#68ff97" fill-rule="evenodd" d="M334 146.1l-4.5 0.6-9-0.4-18.9-1.8-3.6-1.4-1.5-1.2-1.6-1.9-1.4-3-0.9-4.5 0.3-4.5 1.3-3 2.3-2.2 3-1.1 3-0.3 10.5 1.3 1.5-0.5 1.5-1.7 2-7.5 0.2-9 96.8 0 0 6.4-4.5-4.1-3-1.3-3-0.2-7.5 2.6-10.5 5.6-4.5 1.4-4.5 0.7-7.5 0.4-6-0.7-12-5.1-3 0-3 0.9-5.3 3.9-1.3 3 2.9 13.5-0.3 4.5-1.1 4.5-1.7 3-1.6 1.5-3.6 1.6zM415 452l-285 0 0-121.5 9.7-6 15.8-6.1 4.1-2.9 2.3-3 1-3-0.1-4.5-3.2-9-1-4.5 0.2-4.5 0.8-3 3.4-5.3 7.5-7.9 3-2.4 8.2-9.9 3.8-3.3 0.9-1.2 0.2-3 2-1.5 4.4-5.5 3.5-8-0.7-4.5 0.2-4.5 0.8-3-0.4-6 1.1-3.4 0.9-1.1 0.9 0 1.2 2.5 1.5-1.8 0.9-2.2 2.9 0 12.7 5.5 7.5 2.5 6 1.2 4.5-1.9 10.5-3 4.5-0.6 6 0.9 12-1.7 4.5-1.8 12-7.6 3-1.1 19.5 0.9 10.5 2.9 16.5 1.4 6 1.8 1.5-0.6 4-3.3 2.2-3 0.8-3 0.6-9 2.9-9.8 2.7-6.7 4.3-6 1.5-3 0-4.5-4.8-13.5-0.4-3 0.3-3 2-3 1.9-1.4 4.5-1.2 4.5 0.8 4.5 2.7 2.6 3.6 1.3 4.5 0.2 4.5-0.8 4.5-5 10.5-0.8 4.5 1 9 2.8 9-2.2 9 0.2 6 1 4.5 1.2 2.5 1.5 0.8 1.5-0.5 2.2-2.8 1.7-6 0.8-4.5 0-9 2.7-7.5-0.5-6 1.4-6 3.7-6.2 10.5-8.5 2.9-3.3 4.3-10.5 6.3-9.3 0 318.3z"/>
<path fill="#78ff87" fill-rule="evenodd" d="M331 144.7l-12 0.3-15-1.2-3.5-0.8-3.9-3-1.5-3-0.7-3 0.2-4.5 1.9-3.7 4.3-2.3 4.7-0.2 7.5 1.6 1.5 0 1.5-0.8 1.5-2.3 1.8-5.8 1.7-7.5 0.5-4.5 21 0-2.3 4.5-3.2 4.4-1 3.1 2.6 13.5-2.3 10.5-1.7 3-3.6 1.7zM379 110.1l-6 0.8-6.3-0.9-4.2-1.8-4.2-4.2 28.1 0-2.9 3.6-4.5 2.5zM415 452l-285 0 0-119.5 10.5-6.8 12-4.5 4.5-2.2 4.5-3.4 2.4-3.1 1.2-6-3-12 0.9-7.5 1.5-2.1 7.5-6.3 13.7-17.1 5.6-4.5 1.8-3 4.4-4.6 3-1.5 1.5-1.8 2.7-8.6 0.2-6-0.6-6 0.6-7.5 1.2-4.5 1.9 0 16.5 6.5 9 2.1 1.5 0 4.5-2 10.5-2.8 9 0.5 12-1.8 4.5-1.9 11.5-8.1 2-0.6 19.1 0.6 10.9 3.4 16.5 1.4 5.7 2.7 1.8 0 9-6.1 0.8-2.9 0-10.5 0.5-3 4.7-9.9 1.5-1.9 1.5-0.2 6 8 3.3 5.5-0.3 13.5 1 7.5 1.2 3 2.1 3 1.7 1 1.5-0.1 3.9-2.4 4.1-6 2.7-18 3.8-6 1-3 0.1-3-0.8-4.5 0.8-3 3.4-6 9.5-9 3-4 1.7-3.5 1.4-7.5 1.4-2.7 1.5-1.6 0 311.8zM370 155.5l-1.5 1-1.5 0-2.1-1.5-1.6-3-0.3-3 1-3 1.5-1.7 1.5-0.8 1.5 0 2.2 1 1.6 3-0.4 4.5-1.9 3.5z"/>
<path fill="#87ff78" fill-rule="evenodd" d="M326.5 143.2l-9 0.4-13.5-1-3-0.9-2.2-1.7-1.9-3-0.6-3 0.2-3 1.5-3.2 1.5-1.3 3-1.2 4.5 0 6 1.8 3.4-0.6 2.3-3 3.3-10.3 4.3-9.2 7.7 0 0.7 4.5-0.7 8.5 1.6 8 0 6-1.5 6-1.6 3.5-3 2.1-3 0.6zM415 452l-285 0 0-117.5 10-7 15.5-6.3 4.6-2.7 3.5-3 2.2-3 1-3 0.5-4.5-0.3-7.5 1-3 5.5-4.9 13.1-20.6 2.5-3 5.5-4.5 11.6-7.5 3.2-3 2-6-0.4-6-2.2-12 0.3-6 1-4.5 3.3 0 18.6 6.3 4.5 0.5 6.4-2.3 8.6-2.2 10.5 0.3 10.5-1.5 4.5-2.3 10.5-8.2 4.5-0.7 15 0.4 3 0.7 7.5 3 16.5 1 7.5 3.5 3 0.1 9-3.8 2.5-2.3 0.5-3-1.2-7.5 0.6-4.5 2.1-3.4 1.5-0.9 1.5-0.1 3 1.7 2.7 4.2 0.4 4.5-1.2 10.5 1.7 6 4.2 6 2.7 1.5 3-0.1 6-3.2 2.8-2.7 2-3 1.2-4.5 0.3-9 0.8-4.5 5.4-10.5 3-12 3.7-6 7.9-9 4.4-7.8 0 300.3z"/>
<path fill="#97ff68" fill-rule="evenodd" d="M325 141.5l-7.5 0.5-12-0.8-3-0.8-2.4-1.9-0.9-1.5-0.4-4.5 1.4-3 3.8-1.9 3 0.1 6 1.7 3-0.4 1.5-0.7 2.5-3.3 2.2-7.5 2.8-5.4 3-2.4 1.5 0.1 1.5 1.2 0.8 2 1.5 10.5 0 6-1 4.5-2 4.5-2.3 2-3 1zM415 452l-285 0 0-115.1 10.5-8.1 16.5-7 5.1-3.3 3.4-3 2.7-4.5 2-10.5 1.3-3 14.2-15 6.9-10.5 4.6-4.5 3.3-2.3 4.7-2.2 2.8-0.2 7.5 0.9 3-0.3 1.5-0.7 3-2.8 3.3-5.9 1-4.5-1.4-3-7.1-7.5-2.5-4.5-1.5-4.5-0.8-6 0.2-4.5 1.3-0.9 4.7 0.9 11.8 3.9 9 1.3 2.8-0.7 3.2-2 6-1.5 18 0.2 4.5-0.9 3-1.4 3-3.8 1.5-1.2 1.5-0.3 3-3.8 1.5-0.9 16.5-0.7 3 0.5 9 3.8 16.5 0.5 9 4.1 4.5 0 9-1.9 3 0.1 3 1.7 6.1 7.5 2.9 2.5 3 0.5 3-0.5 8.1-4 4.6-4.5 2.1-6 0.2-12 1.3-4.5 4.9-9 6.3-15 10-12.5 0 293zM361 202.5l-1.5-0.8-0.6-1.7 0.6-2.6 1.5-0.6 1.5 1.2 0.4 2-0.5 1.5-1.4 1z"/>
<path fill="#a7ff58" fill-rule="evenodd" d="M320.5 140l-15.7-1.5-2.1-1.5-0.6-3 0.6-1.5 2.8-1.4 7.5 1.3 3-0.6 3-1.8 2.7-3.5 1.3-6 1.3-3 2.2-2.8 1.5-0.6 1.5 0.7 0.5 1.2 1.1 6-0.1 4.5-1.2 6-1.1 3-2.2 2.7-3 1.4-3 0.4zM415 452l-285 0 0-111.3 3-4.2 7.5-6 4.5-2.6 12-4.7 8.9-6.2 3.3-4.5 3.4-10.5 2.4-4.2 6-6 9-6.4 9.5-11.9 4-2.4 4.5-1.8 14.5-3.3 3.7-3 6.3-10.5 0.8-3-1.4-3-7.5-9-2.7-4.5-2.2-7.5-0.1-3 0.6-1 1.5-0.2 12 3.2 9 1.7 3.6-0.7 5.4-2.7 6-0.7 10.5 1 7.5 1.9 1.5 0.7 2.1 2.8-1 9 1.7 3 1.7 0.5 1.5-0.3 3-2.3 3.1-5.4 0.5-3-0.4-6 0.7-6-0.1-4.5 0.5-1.5 5.3-1.5 9.9-1.5 3 0.7 7.5 3.7 16.5-0.3 3 0.8 4.5 2.6 4.5 1.8 4.5 0.6 7.5-0.4 3 0.6 3 2.1 6 7.6 3 1.4 3 0 13.5-6.1 2-1.6 2.3-3 2.1-6 0.4-13.5 1.3-4.5 6.7-12 5-10.5 7.2-9.1 0 288.1zM253.4 257l5.4-1.5 1.9-1.5 0.6-1.5-0.6-1.5-3.2-2.2-6-1.7-3 0.2-4.5 1.2-1.8 1-1.2 1.5-0.1 1.5 0.6 1.5 2.5 2.2 3 0.9 6.4-0.1z"/>
<path fill="#b7ff48" fill-rule="evenodd" d="M326.5 126.2l-1.2-2.7 0-1.5 1.2-2.4 1.5 0.6 0.3 1.8-0.3 2.1-1.5 2.1zM323.5 135.8l-1.5 0.6-2.4-0.9 0.5-1.5 3.4-2.6 1.6 1.1-0.3 1.5-1.3 1.8zM415 452l-285 0 0-108.8 1.5-1.3 3-4.6 7.5-6.2 4.5-2.5 10.5-4 10.5-7.4 3.4-4.7 3.5-9 2.7-4.5 5.4-5.1 9.2-5.4 7.3-8.5 4.5-3.8 6-2.8 9-2.3 7.5-4 3.3-2.6 3.7-6 2-1.2 1.5 0 6 2.1 10.5-0.6 7.5-1.8 2.8-1.5 1.5-1.5 0.7-1.5 0-1.5-0.8-1.5-2.7-2.4-3-1.3-7.5-2-12 0.6-4.5-1.8-4.5-4.5-3.1-5.1-1.2-3-0.3-3 0.5-1.5 2.6-0.5 4.5 0.4 10.5 2 5.9-0.4 4.6-2.2 4.5-0.8 3 0.2 5.6 1.3 3.1 1.5 2.4 3 0.8 3 0 4.5 2.2 6 1.3 1.5 2.6 0.2 4.5-2.5 4.6-5.2 2.4-4.5 2.5-7.5 3.6-6 2.6-6 2.3-1.8 3-0.6 3 0.8 4.5 2.7 3 0.6 13.5-1.3 4.5 0.3 13.5 7 3 0.8 6 0 2 0.5 2 1.5 4 6 2.5 2.3 3 1.5 4.5-0.4 15-6.9 3-2.9 2.1-4.1 1.3-4.5 0.9-6 0.1-9 1.4-4.5 8.2-13.5 4.6-9 3.9-4.7 0 283.7z"/>
<path fill="#c7ff38" fill-rule="evenodd" d="M415 452l-285 0 0-106.3 3.3-3.2 2.8-4.5 7.1-6 4.8-2.6 9.1-3.4 10.8-7.5 3.7-4.5 5.1-10.5 3.2-4.5 4.1-3.4 9.8-5.6 8.2-8.5 4.5-3.4 4.5-2.1 9-2.4 16.5-11.1 18-2.6 9-2.6 2.9-1.8 4.6-4.1 7.5-2.7 4.5-2.8 4.5-4 3-4 5.2-9.4 5-6 2.4-6 1.4-1.5 2.5-0.2 3.7 1.7 2.3 0.4 12-1.8 6-0.4 3 0.4 5.3 2.9 9.7 6.9 7.5 2.6 5.7 7 2.1 1.5 2.7 0.7 4.5 0.2 3-0.4 10.5-4.7 4.5-1.3 3-2.7 1.5-2.3 2.3-6 1.9-9 0.7-10.5 1.3-4.5 8.3-12 4.9-9 1.6-1.8 0 279.3zM271 247.3l-1.5 0.2-6-3.9-4.5-1.5-7.5-1.6-10.5-0.3-3-0.9-2.2-1.8-2.1-3-1.1-4.5 0.8-1.5 3.1-0.7 12 1.4 13.5-1.9 3 0.9 3 2.5 1.5 2.9 0.9 5.4 1.5 4.5 0.1 1.5-1 2.3z"/>
<path fill="#d7ff28" fill-rule="evenodd" d="M415 452l-285 0 0-103.5 5.5-6 2.9-4.5 5.2-4.5 4.4-2.7 10.5-4.1 10.5-7.5 3.2-3.7 6.8-12 3.5-4.3 12.6-7.7 11.4-10.3 4.5-2.6 9-2.7 7.5-5.7 9-4.8 9-3 10.5-1.8 7.8-2.1 14.7-7.7 4.5-3.2 4.5-4.1 4.6-6 4.8-7.5 10.1-9.7 16.5-4.1 9-0.6 3 1 4.5 2.9 11.9 13.5 9.1 6.4 3 0.6 7.5-0.4 18.4-3.6 2.6-2.5 4.5-11 2.6-12 1-10.5 0.8-3 2.7-4.5 7.3-9 3.6-5.6 0 274.1zM262 236.6l-1.5 0.6-3-0.3-11.2-2.4-2.3-1.5 1.5-1.5 15 1.1 1.2 0.4 1.2 1.5-0.2 1.5-0.7 0.6z"/>
<path fill="#e7ff18" fill-rule="evenodd" d="M415 452l-285 0 0-100.1 7.6-9.4 1.8-3 5.6-5.2 3.7-2.3 9.8-3.7 12-8.8 4.2-5.5 6.3-10 4.7-5 9.9-6 13.9-11 4.5-2.3 6-1.8 9-7 7.5-3.9 9-3.5 18-4 14.9-7 4.6-3.5 5.7-5.5 10.8-14.1 7.5-6.4 3-1.8 13.5-4.3 7.5-0.6 3 0.5 6.2 4.2 8.8 14.3 9 6.2 3 1.5 9-0.5 21-3.5 3.1-3 2.9-8.3 6.1-30.7 4.4-6.1 7.5-7.8 0 268.9z"/>
<path fill="#f7ff08" fill-rule="evenodd" d="M415 452l-285 0 0-96.3 5.9-8.7 7.5-9 5.7-4.5 10.8-4.5 10.6-8 13.5-17.7 4.7-4.3 22.3-15.3 3-1.8 6-2.2 9-7.4 7.5-4.1 10.5-4.3 17.8-3.9 13.3-6 4.9-3.7 5.5-5.3 11-13.7 7.5-6.6 4.5-2.9 12-4.2 7.5-0.4 3 0.6 4.5 3 1.4 1.7 6.5 13.5 11.6 8.2 3 1.4 10.5-0.7 18-3.4 2.7-1 3-3 1.8-4.6 1.6-5.9 5.6-28.5 4.8-6.7 6-5.2 0 265.4z"/>
<path fill="#fff700" fill-rule="evenodd" d="M415 452l-285 0 0-91.9 7-11.6 8-9.5 4.5-3.7 10.5-4.8 11.5-9 14.9-18 6.7-6 7.4-4.9 19.5-11.3 9-7.8 9-5 9-3.8 18-4 13.5-5.8 4.5-3.5 6-5.9 10.5-12.7 9-8 4.5-2.6 10.5-3.9 7.5-0.3 3 0.8 4.5 3.7 4.8 12 1.9 3 12.8 8.8 3 1.3 4.5 0.4 6-0.5 18-4.3 3-1.2 3.2-3 2.2-4.5 1.9-7.5 2.9-16.5 2.7-10.5 3.9-6 5.7-5 0 263z"/>
<path fill="#ffe700" fill-rule="evenodd" d="M415 452l-285 0 0-86.2 7.3-14.3 8.6-10.5 5.1-4.2 9-4.7 12-9.7 7.5-8.7 15.4-16.2 5.6-3.6 8.4-3.9 9.6-6 10.5-9.3 9-5.4 9-3.8 19.5-4.6 12.6-5.4 9.9-8.9 9-11 10.5-9.6 4.5-2.9 9-3.7 3-0.7 6 0.2 3 1 3 2.5 0.9 1.6 3.4 10.5 1.8 3 2.9 2.6 12 7.9 4.5 1.7 4.5 0.5 4.5-0.3 21-6.5 4.5-4.2 2.2-4.7 1.5-6 2.9-18 2.7-9 3.8-6 4.9-4.4 0 260.9z"/>
<path fill="#ffd700" fill-rule="evenodd" d="M415 452l-285 0 0-76.5 2.5-9 2.9-7.5 3.3-6 7.8-9.3 4.5-4.2 10.5-6.9 10.5-8.8 7.5-8.4 8-7.4 5.9-7.5 3-3 4.1-2.5 9-3.5 5.1-3 5.4-3.9 10-9.6 8-4.9 9-3.9 20-4.7 13-5.6 10-9.4 8-9.8 6-4.7 6-6.2 4.5-2.5 7.5-3.3 3-0.7 6 0.6 2.6 1.1 2.9 3 1.2 3 1.7 7.5 3.1 4.5 15.5 10.5 6 2.2 4.5 0.7 4.5-0.5 10.5-3.5 9-3.7 4.5-3.8 3-5.5 1.5-5.4 1.1-10.5 1.5-7.5 2.9-9 3.5-5.6 4.5-4.2 0 258.8z"/>
<path fill="#ffc700" fill-rule="evenodd" d="M415 452l-285 0 0-62.7 1.5-2.5 1.1-3.8 0.4-7.5 1.7-9 3.7-9 5.2-7.5 7.4-7.4 21-17.4 7.5-8.3 9-7.7 6.4-8.7 2.6-2.7 3-1.7 9-3.1 5.3-3 5.2-3.8 6-6.7 3.4-3 10.1-6.4 7.5-3.2 22.1-5.4 10.9-4.7 9.5-8.8 8.5-10.3 6.6-4.7 5.2-6 8.1-4.5 4.1-1.9 3-0.7 4.5 0.6 3 1.2 1.5 1.1 1.8 2.7 1.8 9 2.9 4.5 16 10.9 7.5 3.4 6 1.2 4.5-0.6 10.5-4.1 9-4.7 4.5-4.5 2.9-6.1 1.2-4.5 1-12 2.6-10.5 4.1-7.5 4.7-4.8 0 256.8z"/>
<path fill="#ffb700" fill-rule="evenodd" d="M415 452l-285 0 0-55.8 4.3-5.7 2.1-4.5 0.3-3-1-7.5 1.2-9 3-7.5 5.1-7.4 27-24.9 7.5-8.4 10.5-8.6 7.5-10.7 3-1.8 8.7-2.7 7.7-4.5 4.6-3.6 4.2-5.4 3.3-3.1 5.9-4.4 5.4-3 6.7-2.9 22.5-5.5 10.5-4.4 3-2.2 7.4-7.5 7.6-9.2 7.5-4.9 5.6-6.9 10.9-5.7 4.5-0.7 3 0.9 3 1.7 2.5 3.8 0.8 7.5 2.6 4.5 17.8 12 4.8 2.6 7.5 2.7 4.5 0.3 4.5-1.3 9-4.3 9.4-6 2.6-2.7 2.1-3.3 2.8-7.5 0.8-12 2.4-10.5 3.9-7.1 4.5-4.7 0 254.8z"/>
<path fill="#ffa700" fill-rule="evenodd" d="M415 452l-285 0 0-50.7 10-12.3 1.5-3-0.5-3-2.7-7.5-0.1-4.5 1.9-7.5 3.4-6.4 3.2-4.1 11.8-11.2 5.9-6.8 7.6-6.8 7.5-8.5 12-9.8 7.5-10.8 9-2.9 8.5-4.7 5.8-4.5 4.5-6 3.3-3 6.1-4.5 5.6-3 6.7-2.6 22.5-5.5 10.5-4.6 9.8-9.8 6.7-8.2 9.3-5.3 2.4-4.5 1.8-2.2 12-6.4 3 0 2.9 1.1 3.3 3 1.2 3-0.2 7.5 2.5 3 20.3 13.4 7.5 3.9 6 2.3 4.5 0.1 6-1.9 4.5-2.3 12-8.9 3.9-5.1 1.5-3 2-6 0.6-12 1.9-9 3.6-6.6 4.5-4.7 0 252.8z"/>
<path fill="#ff9700" fill-rule="evenodd" d="M415 452l-285 0 0-46.3 17.2-19.7 0-1.5-5.2-6.1-1.3-2.9-0.4-3 1.4-7.5 3.3-6.2 3-3.9 12-12.2 4.7-6.2 7.3-6.8 7.5-8.7 12.5-10 7.6-10.5 8.4-3.1 10.1-5.9 4.9-3.9 3.6-5.1 3-3 5.7-4.5 5-3 6.8-3 23.9-5.7 10.5-4.5 9.4-9.3 7.5-9 2.6-1.7 8.6-2.8 1.2-1.5 0.4-4.5 1.1-1.5 4.5-3 6.7-3.4 1.5-0.1 3 0.9 1.5 1.1 2.3 3 0.4 1.5-0.5 3-2.9 4.5 1.2 1.5 13 7.1 15 9.8 10.5 5.4 4.5 1 6-0.5 3-1 4.5-2.9 5.4-5.4 5.9-4.5 4.3-6 1.4-3 1.8-6 0.5-12 2-9 3.7-6 3.5-3.4 0 250.9z"/>
<path fill="#ff8700" fill-rule="evenodd" d="M415 452l-285 0 0-41.9 21.3-24.1-0.3-2-4.8-4-2.5-3-1.4-4.5 0.5-4.5 1-3 4.2-6.5 12.7-14.5 5.3-7.2 7.5-7.2 6.9-8.1 11.5-9 9.4-10.5 13.5-7.5 8.2-5.7 4.7-6.3 6.8-6 4.5-3 6.5-3.2 25.5-6.2 10.5-4.3 3-2.2 15-16.8 1.5-0.8 4.5-0.9 16.5-0.2 10.5 1.5 9 4.3 16.5 10.8 11 6 4 1 6 0.2 3-0.4 6-3.9 6-7.2 5.6-4.7 3.4-5.4 1.6-3.6 1.6-6 0.4-12 1.7-7.5 2.2-4.3 4.5-4.8 0 249.1zM323.5 234.5l-3 0.2-3-0.7-3-2.2-0.8-1.8 0.8-1.5 3.8-3 3.7-2 3-0.7 3 1.5 1.9 2.7 0.4 1.5-0.8 2.5-1.5 1.6-4.5 1.9z"/>
<path fill="#ff7800" fill-rule="evenodd" d="M415 452l-18.9 0-0.8-4.5-1.3-3.3-1.5-1.8-3-1.4-3 0.8-1.5 2.2-0.9 3.5-0.2 4.5-253.9 0 0-36.6 12-14.4 5.1-7.5 5.4-6 0.5-1.5-0.5-2.8-6.6-6.2-1.4-3-0.3-3 0.6-3 1.7-3.8 9.6-12.7 5.4-6.4 5-7.1 7-7 7.5-8.6 12-9.8 10.5-10.3 19.5-12.5 2.8-2.8 3.2-4.5 6.9-6 4.7-3 6.4-2.9 24-5.5 10.5-4.2 3.4-2.4 13.1-15.1 3-2.2 3-0.5 19.5-0.1 9 1 9 4.1 19.5 12.8 8.3 4.5 3.7 1.1 6 0.7 4.5-0.6 3-1.5 3-2.5 5.9-7.7 4.6-4.2 2.3-3.3 2.9-6 1.7-6 0.6-13.5 1.5-6.6 1.9-3.9 4.1-4.4 0 247.4zM322 233.2l-3-0.7-1.6-1-1-1.5 0.2-1.5 3.9-3.4 3-1.3 1.5 0.1 2.4 1.6 0.8 1.5-0.3 3-2.9 2.5-3 0.7z"/>
<path fill="#ff6800" fill-rule="evenodd" d="M415 452l-9.4 0-3.9-10.5-1.7-3.1-3-2.8-4.5-1.2-4.5 0.8-3 1.5-2 1.8-3.5 6-2.2 7.5-247.3 0 0-29.2 5.4-9.8 9.6-11.6 3.2-6.4 5.8-7.5 0.3-3-0.5-1.5-6.9-7.5-0.8-3 0.2-3 2-4.5 4.2-4.9 14.3-20.6 14.2-15.6 12-10.2 8.9-8.7 4.6-3.7 17.5-11.3 6.3-7.5 6.2-5.3 5.9-3.7 4.6-2 15.9-4 9.6-1.8 9-3.5 4.5-3.2 13.5-15.4 1.5-0.9 3-0.6 7.5 0.4 13.5-0.6 9 1.2 4.5 1.9 7.5 4.4 15 10.2 7.5 4.3 4.5 1.6 6 1.1 6-0.6 3-1.5 3.5-3 11.7-15 2.8-6.2 1.5-5.8 0.9-15 1-4.5 1.8-4.5 3.8-4.3 0 245.8zM323.5 231.7l-3.3-0.2-1.7-1.5-0.1-1.5 2.1-2.3 3-1.2 1.9 0.5 1.1 1.5 0.2 1.5-0.7 1.5-2.5 1.7z"/>
<path fill="#ff5800" fill-rule="evenodd" d="M371.5 452l-241.5 0 0-14.6 3.9-13.9 2.3-6 2.7-4.5 7.6-9.8 2.7-6.7 4.8-6.4 1.2-2.6 0.1-3-1.1-3-4.4-4.5-1.7-3-0.2-3 1.6-4.3 4.9-6.2 5.4-9 9.7-13.5 12.4-13.5 23.1-21 19.5-13 8.9-9.5 8.2-6 7.1-3 11.9-3 13.4-2.5 6-2.2 4.5-2.4 2.3-1.9 11.2-13.2 2-1.8 2.5-1.1 7.5 0.1 15-1.1 9 1.1 4.5 1.9 6.1 3.6 16.4 11.3 9 5 10.5 2.7 4.5-0.4 3-1 3-1.7 4-3.9 9.5-13.5 2.8-7.5 1-4.5 0.9-15 0.9-4.5 1.9-5.1 3-3.4 0 239.5-3-3.1-2.8-8.9-2.7-4.5-3.5-2.5-3-0.7-3-0.1-3 0.5-4.5 1.7-4.5 2.7-3 2.5-4.8 6.4-4.6 10.5-1.1 0zM323.5 230.2l-1.5 0.2-1.5-0.7-0.3-1.2 1.8-1.8 2.3 0.3 0.6 1.5-1.4 1.7z"/>
<path fill="#ff4800" fill-rule="evenodd" d="M367 452l-235.3 0 3.4-12 2.2-15 1.8-6 2.3-4.5 6.6-9.6 2.8-8.4 4.5-6 1-3 0.1-3-1-3-4.9-6-0.7-1.5-0.1-3 1.2-3 4.6-6.4 5.9-10.1 8.2-12 12.9-14.1 22.5-20.8 19.5-13.2 12-11.7 7.3-4.7 3.7-1.5 11.7-3 14.8-2.6 4.5-1.4 6-2.8 3-2.2 11.5-13.5 3.5-2.1 7.5-0.3 13.5-1.7 10.5 1 3.8 1.6 7.7 4.5 15.5 11 9 5 10.5 3.2 4.5 0 4.5-1.3 4.5-2.6 3.7-3.3 4.4-6 3.5-6 1.9-5.9 1.7-7.6 1.6-19.5 1.5-4.5 2.7-3.6 0 191.4-6-1-4.5-0.2-3.8 0.9-2 1.5-1 3-0.9 9-1.2 3-3.7 4.5-12.9 12.3-5.2 7.2-5.6 10.5-1.2 0z"/>
<path fill="#ff3800" fill-rule="evenodd" d="M362.5 452l-224.5 0 2.9-13.5 0.7-13.5 1.3-6 2-4.5 4.6-7.5 2.3-9 4.2-6 1.5-4.5-0.1-3-0.8-3-4.9-7.5 0.1-3 12-21 7.2-10.5 11.5-12.5 11.6-11.5 12.4-11.2 19.1-12.8 11.2-10.5 6.7-4.5 3.6-1.5 12-3 16.4-2.6 4.5-1.4 6-2.8 3-2.4 9-11.1 4.5-3.4 21-3.4 10.5 0.9 4.5 2 7.9 4.7 17.6 12.6 12 5.7 4.5 1.2 4.5 0.2 4.5-0.8 5.6-2.4 4.2-3 3.7-4 2.4-3.5 2.1-4.8 2.8-14.7 1.3-19.5 1.4-4.5 2-2.9 0 176.6-13.5 3.2-4.5 2.2-3 2.6-2.5 4.3-2.5 13.5-2.6 6-13.9 18-9.2 13.5-0.8 0z"/>
<path fill="#ff2800" fill-rule="evenodd" d="M356.5 452l-212.3 0 2.9-13.5-0.8-13.5 0.8-6 4.7-10.5 1.9-10.5 3.4-4.5 1.4-4.5-0.3-6-1.2-4-2.7-5 0.1-3 10-19.5 6.8-10.5 5.3-6.2 13.5-13.4 4.5-5.3 12.4-11.1 22.2-15 9.8-9 5.1-3.1 4.5-1.6 13.1-2.8 15.4-1.9 10.5-4 3.9-3.1 5.2-7.5 2.8-3 4.6-3.1 13.5-4.2 7.5-0.9 7.5 0.6 4.5 1.5 9 5.4 18 13 13.5 6.8 4.5 1 7.5-0.4 5.8-1.7 4.7-2.4 6.2-5.1 2.3-3 1.2-3 1.2-7.5 1.4-28.5 1.2-5.2 1.5-2.6 0 158.3-2.4 4-2.1 2.2-13.5 8.1-3 2.4-3 3.4-4.6 9.4-3.1 13.5-3.2 7.5-5.2 7.5-9.4 11.6-7.9 9.4-1.1 0z"/>
<path fill="#ff1800" fill-rule="evenodd" d="M349 452l-117.3 0 2-3 4.5-10.5 1.6-7.5-1.2-9-1-3-2.6-2.5-3-0.8-3 0.9-1 2.4 0.4 9-2.7 12-0.5 4.5 0.5 4.5 1.5 3-76.9 0 3.1-13.5-1.7-12 0.1-6 3.1-10.5 0.9-9 3.1-6 0.8-4.5 0-6-2.2-12 0.6-4.5 7.8-16.5 6.1-9.8 5.7-6.7 12.3-12.3 4.6-5.7 13.5-12 25.4-16.5 6-5.9 5.6-3.1 12.4-2.1 21-1.8 10.5-3.5 6-4 5-9.6 2.4-3 4.8-3 8.8-4.2 10.5-1.5 6 0.5 3 0.9 12 7.2 15 11.4 10.5 6 6 2.8 3 0.6 9-0.4 7.5-1.8 4.5-2.2 8-5.8 1.1-1.5 1-3-0.1-33 0.5-6 1.5-4.4 0 128.1-4.5 3.2-3.9 5.1-9.8 22.5-9.9 13.5-5.5 12-3 15-3.9 8.7-4.5 6.2-7.5 8.1-8.2 7-3.9 4.5-1.4 0z"/>
<path fill="#ff0800" fill-rule="evenodd" d="M415 239.5l-0.6-9.5 0.6-6.2 0 15.7zM340 452l-55.4 0-1.6-1.7-2.8 1.7-2.5 0-3.7-3.7-3-1.1-1.5-1.6-1.5-8.6-1.4-4.5-2.7-6-4.6-6-5.7-4.5-8.1-4.4-5.2-1.6-5.3-0.6-4.5 0.6-3 1.2-3.5 3.3-0.8 3 0.4 9-0.3 4.5-7.5 21-58 0 1.7-12-0.4-4.5-2.1-9-0.2-4.5 2.3-18 2.3-7.5 0-9-1-9 0.4-10.5 6.6-16.5 4.3-7.5 4.7-6 13.6-13.9 5.6-7.1 12.4-10.8 5.7-4.2 13.8-8.7 7.5-3.7 6-5.2 6-2.4 19.5 0.2 10.5-0.6 9-1.4 4.5-1.4 3-2 3-3.1 2.8-4.7 3.8-9 2.6-3 3.7-3 6.6-4.2 9-1.9 7.5 0.4 3.5 1.2 11.5 7.1 12 9.8 13.5 8.5 6 3 12 0.2 9-1.2 7.6-3.4 7.4-4.9 0 71.1-3.4 1.3-5 3-7.5 6-2.5 3-6.1 10.5-2.6 6-2 9-4.1 9-2.5 7.5-3.2 6-1.2 4.5-1.9 13.5-1.7 4.5-2.8 4.5-9 8.8-9 5.9-9.8 9.3-0.7 0z"/>
<path fill="#f70000" fill-rule="evenodd" d="M206.5 452l-38.2 0-6.1-24-0.9-6 0.8-15 1.7-10.5-1.2-18 1.5-12 3.9-12 3.4-7.5 2.9-4.5 5-6 10.7-11 7.5-9.3 11.5-9.7 6.2-4.5 12.3-7.5 9-3.5 7.5-4 3-0.4 7.5 0.8 10.5-0.1 25.5-1.5 6-1.7 2.3-3.1 4.4-15 3.2-6 4.6-4.5 5-3.8 6.5-2.2 4-0.5 4.5 0.3 3 0.5 2.5 1.2 9.7 6 13.3 11.2 13.5 9.3 4.5 2.3 4.5 0.6 18-0.4 7.5-2 7.5-3.9 0 61.1-14 5.8-7 3.9-4.6 3.6-5.6 7.5-2.3 4.5-2.8 7.5-3.9 16.5-6.2 18-3.3 15-2.3 4.5-2.7 3-23.3 18.1-9 5.4-6 2.4-4.5 0.7-3-0.2-3.9-2.4-2.1-2.1-1-2.4-0.3-3 0.8-9-0.4-4.5-4.5-15-0.7-4.5 0.9-6 6.7-13.5 0.9-3 0-3-0.9-1.5-1.5-1-3-0.8-11.5 0.3-3.5 1.2-2.4 1.8-9.9 10.5-4.2 5.1-4.5 3.2-10.5 3.2-6 0.2-13.5-0.7-4.5 0.4-6 1.7-4.5 2.9-2.8 3.5-1.1 3-0.3 12-1.4 6-6.4 11.2-5.1 6.8-0.9 0z"/>
<path fill="#e70000" fill-rule="evenodd" d="M193 450.6l-4.5 0.5-3-0.4-4.5-1.2-3-1.7-4.5-4.6-4.5-8.8-2.6-7.9-1.1-7.5 0-10.5 0.8-12-1-16.5 4.9-25.5 3.7-9 5.8-7.4 10.5-11.1 6.2-8.5 13.3-11.2 7.5-5.3 10.5-6.2 13.5-3.8 3-0.4 9 0.9 21-2.3 22.5-0.8 5.3-0.9 1.7-1.5 0.4-1.5-0.1-12 1.2-6 1.9-4.5 2.4-3 6.7-6.1 4.5-2.5 4.5-0.9 4.5-0.1 4.5 0.7 7.7 4.4 6.3 4.5 8.5 8.1 13.5 11 3 2.1 3 1.3 3 0.4 7.5-0.4 15 0.8 7.5-1.3 6-2.1 0 50.5-7.5 3.2-12 2.6-9 2.7-6 3.3-3 3.3-5.2 9-4.7 12-2 9-1.1 10.5-5.7 15-3.8 5.7-9.9 9.3-5.1 9.3-4.5 5.1-3 1.7-3 1-4.5-0.3-3.6-1.8-2.5-4.5-2-9 0.5-9 2.1-9 7.5-16.5 1.3-6-1.5-4.5-3.3-2.8-4.5-1.1-4.5 0.2-11.4 2.2-9.6 2.6-4.5 1.9-4.5 2.9-18 14.1-7.5 4.4-6 1.8-12 1-6 1.1-4.5 1.4-4.5 2.7-4.5 4-2.5 4.1-1.2 4.5-0.6 12-1 3-2.2 3.8-4.5 5.3-4.5 3.9-6 3.3-6 1.8z"/>
<path fill="#d70000" fill-rule="evenodd" d="M194.5 443.1l-7.5-0.3-6-2.2-4.5-3.8-4.3-7.3-2-6-1.2-7.5-0.7-34.5 3-13.5 1-13.5 1.2-4.5 2-4.5 4.6-6 9.9-10.9 7.3-10.1 15.2-12.2 13.5-8.2 6-2.1 9-0.5 10.5 0.9 24-3.5 28.5-0.2 4.5-0.6 1.5-1.1 0.6-2.5-3-7.5-1.2-6 0.4-6 1.6-4.5 2-3 8.4-7.5 3.2-1.4 4.5-0.8 4.5 0.1 3 0.8 5.2 2.8 6.3 4.5 18.9 19.5 4.1 7.7 1.5 1.1 16.5-3.1 18 2.4 6 0.1 4.5-1.2 0 36.4-6 4.1-4.5 1.1-7.5-0.8-9-2.7-4.3-3.1-3.2-4-9.2-14-4.3-8.1-1.5-1.2-1.5-0.1-9 2.1-1.5 1.3-1.2 3-3.8 24-3.7 10.5 1.2 3.5 1.5 1.3 1.5 0.4 3-0.8 2.3 0.1 1.5 1.5 0 1.5-0.8 1.5-1.5 1.1-7.5 1.5-2 3.4-0.2 6-0.6 1.5-6.2 1.4-19.5 2.3-13.5 3.5-12 4.5-4.5 2.3-16.5 12.1-12 7.7-6 2.1-16.5 2.4-6 2.3-7.5 5.6-5.3 6.3-2.2 6-1.5 13.1-2.8 4.9-3.2 3.2-4.5 3-4.5 2-4.5 0.9zM341.5 393.8l-1.5-0.8-0.3-2.5 1.8-2.2 1.5 0 1.2 2.2-0.4 1.5-0.8 1.1-1.5 0.7z"/>
<path fill="#c70000" fill-rule="evenodd" d="M196 437.1l-6-0.1-4.5-1.2-4.5-2.7-3.2-3.6-2.8-5.8-1.5-5.4-1.3-9.8-0.4-9 0.5-15 1.2-4.5 3.5-7.5 1-4.5-3.1-12 1.2-7.5 3.4-5.8 12-14.2 6-8.9 4.4-4.1 14.8-10.5 7.8-4.5 4.5-1.9 6-0.4 10.5 1.8 4.5 0.2 15-3.1 13.5-1.7 15-0.5 13.5 1.1 4.5-0.7 3.1-2.3 1.2-3-0.5-3-5.5-9-1-4.5 0.6-6 1.2-3 2.1-3 6.3-5.7 4.4-1.8 3.1-0.5 4.5 0.1 3 0.9 8.5 5.5 4.5 4.5 4.3 6 3.1 6 2.1 3 0.2 1.5-2 3-7.2 4.3-2.7 3.2-0.9 4.5 0.9 13.5-1.4 9-2.4 6-4.4 7.5-3 10.5-2.5 4.5-3.1 2.8-3 1.7-19.5 6.8-16.5 7.8-7.5 4.8-13.5 10.2-10.5 6.3-7.5 2-15 0.9-3 1.2-12 11.2-4.4 5.8-2.4 6-2.4 12-2.6 4.5-3.2 2.7-3 1.7-6 1.7zM407.5 311.1l-4.5 0.7-6-0.7-4.5-1.3-3.3-1.8-4.2-3.8-3.3-5.2-0.5-3 1.2-3 2.6-2.1 4.5-0.4 12 3.4 7.2 3.6 3.1 3 0.8 3-1.5 4.5-3.6 3.1z"/>
<path fill="#b70000" fill-rule="evenodd" d="M197.5 431.1l-4.5 0.2-4.5-1-4.2-2.3-2.7-3-2.1-3.8-1.7-5.2-1.2-7.5-0.5-7.5 0.6-7.5 1.4-6 1.4-3 5.3-7.5 1.4-4.5-1-6-5.2-7.5-1.4-3-0.5-3 0.6-4.5 2.2-4.5 10.6-13.4 6.8-10.6 3.7-3.6 15.2-9.9 8.2-4.5 3.6-1.1 4.5 0 9 2.9 4.5 0.5 19.5-4.5 16.5-2.3 12-0.3 13.5 1.9 6-1.1 5.4-3.5 2.5-3 0.6-1.5-0.1-1.5-0.9-1.5-7.5-7.6-2.9-4.4-0.7-4.5 0.7-3 1.4-3 2.2-3 3.8-3.3 6-2.4 4.5-0.2 3 0.6 3 1.4 3.3 2.4 2.9 3 1.9 3 1.2 4.5-0.3 3-3 3.9-6 3.4-1.5 1.5-2.3 3.2-1.2 3 0.5 1.5 5.3 7.5 2.4 6 1 6-0.3 6-1.1 4.5-1.8 4.5-6.3 12-3 4.5-5.2 4.3-12 4.9-22.5 12.2-7.5 5-13.5 10.4-10.5 5.9-6 1.5-6 0.1-6-1.2-6-2.4-3 0-2.3 2.8-2.9 7.5-1.6 3-9.1 12-1.9 4.5-3.2 10.7-1.5 3.1-1.5 1.9-3 2.3-4.5 1.6z"/>
<path fill="#a70000" fill-rule="evenodd" d="M325 279.8l-4.5-0.5-4.5-3.4-2.4-3.9 0-3 2.4-5 3-2.8 6-2.5 3-0.2 3 0.5 3 1.4 2.6 2.6 1.6 3 0.1 3-1.7 3-2.6 2.5-6 4.2-3 1.1zM254.5 380l-3 0.8-4.5 0.2-6-1.7-3.4-2.3-8.5-7.5-1.3-1.5-1.3-3-2-1.1-3 0-3.3 1.1-2 1.5 0.9 1.5-0.8 1.5-5.3 3.1-1.5-0.2-1.5-2.8-7.5-0.1-4.5-2.1-4.5-3.1-6.7-6.8-2.5-4.5-0.4-3 0.6-3 2.3-4.5 8.2-11.6 4.5-8.1 3.3-4.3 7.2-4.7 16.5-8.7 3-0.9 3 0.1 2.6 0.7 2.4 1.5 4 4 1.5 1 1.5 0 20.9-8 21.1-3.6 6-0.5 6 0.3 12 2.7 3 0.2 3-0.5 7.5-2.8 3-0.5 3 0.5 3 2 2.6 3.7 1.2 3 0.4 7.5-0.8 4.5-1.8 4.5-3.1 5.8-3 4-6 4.8-9 4.1-11 6.8-10 5.2-10.5 7.2-15 12-6 3.6-4.5 2zM234.9 330.5l4.1-4.5 2.3-4.5-0.3-3.9-1.5-1.1-3 2.1-6.1 8.9-0.4 1.5 0.5 2.3 1.5 0.6 2.9-1.4zM231.9 351.5l2-3 0-3-1.9-3.2-1.5-0.7-1.5 0.2-1.5 1.2-1.2 2.5 0.1 4.5 1.1 2.1 1.5 0.7 2.9-1.3zM199 423.9l-3 0.7-4.5-0.6-3.4-2-2.6-3-2-4.5-0.9-4.5-0.2-6 1-4.5 2.1-3.6 3-1.9 12-1.6 3-1 6-3.7 3 0.1 1.8 1.2 1.2 2.2 0.1 2.3-0.8 3-5.9 10.5-3.9 11.3-3 3.8-3 1.8z"/>
<path fill="#970000" fill-rule="evenodd" d="M323.5 273.7l-2.1-0.2-2.4-1.2-1.4-1.8-0.1-1.5 1.5-2.5 2.5-2 2-0.7 3 0 1.5 0.7 1.1 1.5 0.5 3-2.1 3-4 1.7zM253 375.7l-6 0.3-4-2-3.5-4.5-1.4-3-0.5-3 1-4.5 8.2-18 2.8-22.5 1.6-3 2.8-3 4.5-3 7.1-3 14.2-3 10.7-1.5 9 0.9 9 3.8 3 0.7 3-0.2 6-2.3 3-0.5 2.3 0.6 2.2 1.5 2.4 4.5 0.1 7.5-2.5 7.1-3 3.8-6 3.7-3 0.6-7.5-0.1-4.5 1.8-15.3 14.6-11.7 8.7-10.5 9.4-7.5 4.9-6 2.7zM206.5 359.2l-3 0.5-4.5-0.6-7.7-4.6-2.8-2.6-1.5-3-0.1-1.9 0.9-3 10-19.5 4.5-6 7.2-3.8 13.2-3.7 4 0 0.9 1.5-0.8 4.5-4.4 12-3.9 16-4.5 8.4-4.4 4.1-3.1 1.7zM197.5 413.4l-1.5 0.1-1.5-0.7-1.4-2.8-0.1-1.5 2-3 2.5-0.9 1.5 0.1 1.5 1.5 0 3.4-1.5 2.9-1.5 0.9z"/>
<path fill="#870000" fill-rule="evenodd" d="M256 365l-3 0.1-1.5-0.7-1.2-2.4-0.1-1.5 1.7-4.5 5.2-7.5 1.6-4.5 1-7.5-1.4-12 1.2-4.5 1.7-3 2.9-3 3.9-2.6 10.5-3.4 13.5-2.2 4.5 0.6 3.3 1.6 3 3 2.7 4.4 1.7 1.6-1.7 1.5-4.5 2.2-7.5 5.3-5.6 3-5 9-0.1 1.5 0.8 1.5-0.2 1.5-1.9 2.5-12 9.8-7.5 7.2-2.2 1.5-3.8 1.5zM200.5 345.6l-3-0.2-1.5-0.9-1.4-3.5 4.4-15.5 3-4.8 2.5-2.2 5-1.8 4.5 0.7 1.9 1.1 1.9 3-0.1 4.5-1.5 4.5-3.7 5.3-6.6 5.2-2 3-3.4 1.6zM320.5 321.6l-1.5 0.3-3-0.4-7.9-3 1.9-1.2 10.5-1.5 1.4 1.2 0.3 1.5-0.2 1.5-1.5 1.6z"/>
</g>
<g clip-path="url(#dm)" fill="none" stroke="#000" stroke-width="1" stroke-linejoin="round" shape-rendering="crispEdges">
<path d="M321.1 106l0 2.3-1.5 6.8-2.3 7.5-2.2 2.7-8-2-3.1-0.3"/>
<path d="M341.5 106l-0.8 2.3-3.8 4.5-1.5 3.8 2.2 6 1.2 7.5-1.9 7.5-1.5 5.3-3.8 2-12 0.3-12.5-1.1-4.1-0.1"/>
<path d="M360 106l1.7 2.3 4.5 1.9 6.1 1.1 6-0.5 5.3-2.5 1.4-2.3"/>
<path d="M367.5 142.6l4 1.8 1.2 3.8-1.2 6-3.4 3.3-4.1-2.5-1.5-5.3 1.5-4.5z"/>
<path d="M296 150l2.1 0 5 0.2 5.5 0.3 3.5 1.5 6.1 1.6 5 2 5 2 6 1.5 2.5 1.5 0.7 3.5 0.3 11 0 10.1-2 4-2 5-1 4-2.5 2.5-10 0.3-18.1 0.2-12.1-0.5-2 0"/>
<path d="M296 156l2.1 0.1 5 1.5 3.5 1.5 2 2.5-1 5.5-1.5 4-2.5 4-0.3 5.1 1.3 4.5 4.5 2.5 5.5 3-4.5 3-4 3-4.5 2-5.5 0.5-6.1-0.1-2 0"/>
<path d="M292 159l2.1 2.3 2.5 2.3 1.8 3.5-0.8 4-1.5 4-1 5.1-0.5 4 1 4 0.5 3-2 2-4.1 0.5-2 0"/>
<path d="M288 205.1l2 0 8.3 0 10.5 0.7 7.6 3 7.6 1.2 9 0.5 3.1 0.4 5.3 3.4 6.8-4.2 4.5-3 0-15.1 3.8-9 3-6 3.7 4.5 3.7 5.3 3.9 6-0.8 12.8 1.5 9.8 4.5 6 5.3-3 4.5-6.8 0.8-9 1.5-9 4.5-6.1 0.8-4.5-1.6-6.2 3.8-7.5 5.3-5.3 6-5.3 3.8-6 0.7-6.8 1.6-3.9"/>
<path d="M149 333l1.9-0.6 8.3-3 6-5.2 6-3.8 4.5-6 4.5-6.8 5-6.4 5-3.5 6-3.5 5-4 5.1-3.5 4-3 4-2.5 5.7-1.5 3-2.4 6-5.2 9.1-4.6 9-3.7 9-1.5 9.1-2.3 6-3 6-2.3 6-4.5 6.1-6 4.5-6 4.5-6 6-5.3 6-4.5 5.8-2.3 7.9-2.6 9.1-0.6 6.1 3.8 3.7 7.5 3.8 8.3 6 3.7 7.5 5.3 10.6-0.8 10.5-2.2 10.5-1.5 3.8-3.8 3-10.5 2.3-12.1 1.5-7.5 1.5-9 4.5-6.1 3.8-3.7 1.8-1.3"/>
<path d="M149 356l1.9-1.7 3.7-4.5 6.1-6.1 4.5-6.7 7.5-6.8 7.5-9.1 6.1-4.5 6-4.5 6-7.5 6-4.5 6.1-3.1 7.5-4.5 6-4.5 3.6-6 6.1-5.2 4.5-3.2 7.5-3.8 9-2.3 9.1-2.2 7.5-1.5 6-2.3 6-3 4.6-5.3 4.5-4.5 4.5-6 3-3 6.2-1.2 8.1 0 8.5 0 10.5 1.7 7.6 3.8 7.5 4.5 7.5 5.3 7.5 4.5 7.6 3.8 10.5 0 6-3.8 6.1-7.5 6-4.5 4.5-7.6 2.3-7.5 0-12 2.2-9.1 3.8-5.3 1.8-1.8"/>
<path d="M311.6 229.4l6.4-4.1 6.4-3.5 3.8 1.9 3.3 4.9-2.5 4.2-6.5 2.2-6.4-0.9z"/>
<path d="M141 396l1.9-2.1 7.2-7.1 1.9-1.8"/>
<path d="M154 451l0.6-2.5 2.3-6.8 0-6-2.3-9 0.1-5.7 2.3-10.8 0.6-8.1 2.9-5.5 0.1-10.6-1.1-6 0-12.9 3.4-6.8 3.8-9 4.5-7.6 6-7.5 6.1-6 7.5-7.5 4.5-6.1 6-4.5 6-6 6.1-4.5 7.5-4.6 6.6-4.4 7.6-3.8 4.5-5.2 6-3.1 10.5-0.7 12.1 0 10.2-0.8 9.6-2.5 7.3-4.4 3-3.8 1.5-4.5 3-6.1 6-4.5 7.6-4.5 9-1.5 9.1 0.8 4.7 2.8 7.5 4.5 6 4.5 6 5.3 7.5 4.7 7.6 4.5 6 3 10.5 0 9.1-1.5 7.5-3.8 5.3-3.7 1.8-1.3"/>
<path d="M414 342l-1.8 1-5.3 3.8-6 6-3 6.8-4.5 7.5-2.3 6 0 4.5-6.8 10.6-2.2 7.5-3.8 6-1.5 7.6-0.8 7.5-2.2 6.8-4.5 6.9-3.1 3-6 6-6 3.7-6 5.3-2.2 2.5"/>
<path d="M242.3 440.6l3.6-1.8 3.6 1.8-3.6 1.8z"/>
<path d="M208.9 315.4l7.5-0.3 6 3-1.5 7.6-2.3 7.5-2.2 9-4.5 7.6-6.1 4.5-3.7 1.2-7.1-3.5-5.7-5.3 1.5-6 4.5-9 3-7.5 4.5-6.1z"/>
<path d="M292 303.1l-8.8 1.2-9 1.8-9 2.3-7.6 4.5-5.2 6.8 0 10.5 0.7 10.6-4.5 7.5-3.8 4.5-1.5 3.2-2.2 7.6 2.2 6 3.1 3.7 6.7 0 6.1-3 6-3.7 6-6.1 6-5.2 6-4.5 3-2.5 4.6-6 4.5-7.6 4.5-5.2 6-3.8 6.1 2.3 6 2.2 7.5-3.7 2.9-6.5-0.1-8-2.8-4.1-3-1-7.5 3.4-6.1 0.4-3-3.1-6.8-3.6z"/>
<path d="M162.3 287l-0.1 2.5-0.7 4.5 2.2 6.1 1.5 6-0.8 6-3.7 4.5-4.6 3-5.2 2.3-1.9 0.6"/>
</g>
<rect x="356.3" y="172.3" width="6.5" height="11.4" fill="#fff" shape-rendering="crispEdges"/>
<rect x="316.2" y="208.2" width="16.8" height="11.4" fill="#fff" shape-rendering="crispEdges"/>
<rect x="299.8" y="232" width="14.2" height="11.2" fill="#fff" shape-rendering="crispEdges"/>
<rect x="278" y="272" width="24.1" height="12" fill="#fff" shape-rendering="crispEdges"/>
<rect x="292" y="295" width="14" height="12" fill="#fff" shape-rendering="crispEdges"/>
<rect x="187.9" y="349.9" width="14.2" height="11" fill="#fff" shape-rendering="crispEdges"/>
<text class="cl" x="356.67" y="182.9" textLength="5.72" lengthAdjust="spacingAndGlyphs">9</text>
<text class="cl" x="316.58" y="218.8" textLength="16.01" lengthAdjust="spacingAndGlyphs">9.5</text>
<text class="cl" x="300.46" y="242.4" textLength="13.02" lengthAdjust="spacingAndGlyphs">10</text>
<text class="cl" x="278.76" y="283.2" textLength="22.85" lengthAdjust="spacingAndGlyphs">10.5</text>
<text class="cl" x="292.85" y="305.9" textLength="10.97" lengthAdjust="spacingAndGlyphs">11</text>
<text class="cl" x="188.94" y="360.9" textLength="11.08" lengthAdjust="spacingAndGlyphs">11</text>
<text class="z"><tspan x="146" y="110" textLength="12.69" lengthAdjust="spacingAndGlyphs">Z</tspan> <tspan x="173.05" y="110" textLength="19.75" lengthAdjust="spacingAndGlyphs">=</tspan> <tspan x="205.73" y="110" textLength="37.34" lengthAdjust="spacingAndGlyphs">2.5</tspan> <tspan x="253.89" y="110" textLength="22.67" lengthAdjust="spacingAndGlyphs">m</tspan></text>
<g class="g">
<line x1="194.5" y1="57" x2="194.5" y2="563" stroke-dasharray="2 4.5 1 5.54" stroke-dashoffset="-9.4"/>
<line x1="265.5" y1="57" x2="265.5" y2="563" stroke-dasharray="2 4.5 1 5.54" stroke-dashoffset="-9.4"/>
<line x1="336.5" y1="57" x2="336.5" y2="563" stroke-dasharray="2 4.5 1 5.54" stroke-dashoffset="-9.4"/>
<line x1="407.5" y1="57" x2="407.5" y2="563" stroke-dasharray="2 4.5 1 5.54" stroke-dashoffset="-9.4"/>
<line x1="477.5" y1="57" x2="477.5" y2="563" stroke-dasharray="2 4.5 1 5.54" stroke-dashoffset="-9.4"/>
<line x1="548.5" y1="57" x2="548.5" y2="563" stroke-dasharray="2 4.5 1 5.54" stroke-dashoffset="-9.4"/>
<line x1="619.5" y1="57" x2="619.5" y2="563" stroke-dasharray="2 4.5 1 5.54" stroke-dashoffset="-9.4"/>
<line x1="125" y1="106.5" x2="674" y2="106.5" stroke-dasharray="2 5 1 5.1" stroke-dashoffset="-5"/>
<line x1="125" y1="191.5" x2="674" y2="191.5" stroke-dasharray="2 5 1 5.1" stroke-dashoffset="-5"/>
<line x1="125" y1="276.5" x2="674" y2="276.5" stroke-dasharray="2 5 1 5.1" stroke-dashoffset="-5"/>
<line x1="125" y1="360.5" x2="674" y2="360.5" stroke-dasharray="2 5 1 5.1" stroke-dashoffset="-5"/>
<line x1="125" y1="445.5" x2="674" y2="445.5" stroke-dasharray="2 5 1 5.1" stroke-dashoffset="-5"/>
<line x1="125" y1="530.5" x2="674" y2="530.5" stroke-dasharray="2 5 1 5.1" stroke-dashoffset="-5"/>
</g>
<g class="g g2" clip-path="url(#dm)">
<line x1="194.5" y1="57" x2="194.5" y2="563" stroke-dasharray="2 4.5 1 5.54" stroke-dashoffset="-9.4"/>
<line x1="265.5" y1="57" x2="265.5" y2="563" stroke-dasharray="2 4.5 1 5.54" stroke-dashoffset="-9.4"/>
<line x1="336.5" y1="57" x2="336.5" y2="563" stroke-dasharray="2 4.5 1 5.54" stroke-dashoffset="-9.4"/>
<line x1="407.5" y1="57" x2="407.5" y2="563" stroke-dasharray="2 4.5 1 5.54" stroke-dashoffset="-9.4"/>
<line x1="477.5" y1="57" x2="477.5" y2="563" stroke-dasharray="2 4.5 1 5.54" stroke-dashoffset="-9.4"/>
<line x1="548.5" y1="57" x2="548.5" y2="563" stroke-dasharray="2 4.5 1 5.54" stroke-dashoffset="-9.4"/>
<line x1="619.5" y1="57" x2="619.5" y2="563" stroke-dasharray="2 4.5 1 5.54" stroke-dashoffset="-9.4"/>
<line x1="125" y1="106.5" x2="674" y2="106.5" stroke-dasharray="2 5 1 5.1" stroke-dashoffset="-5"/>
<line x1="125" y1="191.5" x2="674" y2="191.5" stroke-dasharray="2 5 1 5.1" stroke-dashoffset="-5"/>
<line x1="125" y1="276.5" x2="674" y2="276.5" stroke-dasharray="2 5 1 5.1" stroke-dashoffset="-5"/>
<line x1="125" y1="360.5" x2="674" y2="360.5" stroke-dasharray="2 5 1 5.1" stroke-dashoffset="-5"/>
<line x1="125" y1="445.5" x2="674" y2="445.5" stroke-dasharray="2 5 1 5.1" stroke-dashoffset="-5"/>
<line x1="125" y1="530.5" x2="674" y2="530.5" stroke-dasharray="2 5 1 5.1" stroke-dashoffset="-5"/>
</g>
<g fill="none" stroke="#000" stroke-width="2.8" stroke-linejoin="round" stroke-linecap="round" shape-rendering="crispEdges">
<path d="M352.5 55l-1.8 1.4-6.4 4.8-3 2.1-4.4 2.9-2.8 2-5.9 4.4-3.2 2.1-5.8 3.3-3.2 2-5.9 4-3.2 1.8-5.6 2.6-2.6 1.5-3.4 2.9-1.9 1.9-3.2 4-1.7 1.9-3 3-1.5 1.5-2.5 2.5-0.8 1.1-0.4 1.5 0.2 0.9 1.1 1.8 0.7 1 1.5 1.9 0.9 0 1.8-1.9 1-0.9 1.8-1.4 1.1 0 2.2 1.4 1.2 0.8 2.2 1.5 1.2 0 2.2-1.5 0.8-0.3 0.9 0.6 0 0.8-0.6 2.4-0.4 1.3-0.7 2.3 0.1 1.2 0.8 2.3 0.7 1.3 1.2 2.6 0.5 1.4 0.3 2.6 0 1.8-0.6 3.8-0.1 1.3-0.2 0.6-0.4 0.9-1.7 2.6-0.7 1.6-0.9 3.2-0.6 1.7-0.9 3-0.6 1.1-0.9 0.9-1.4 0.4-3.9 0.3-2.2 0.1-3.8 0-0.8 0.6 0.9 2.3 0.8 1.3 1.5 2.6 1.2 1.2 2.6 2 1.1 0.7 1.3 0.6-0.2 0.7-1.9 2-1 1-1.2 2-0.5 1.8-0.2 4.5-0.1 2.7 0 5.2-0.1 2.5-0.2 3.8-0.3 2-0.5 3-0.5 2-1.1 3.9-0.7 2.4-1.3 4.8-0.8 2.4-1.5 3.3-1.2 1.7-2.9 2.3-1.9 0.8-3.8 0.6-2.7 0.1-5.8 0-3.2 0.4-5.9 1.6-3.1 0.5-5.2-0.1-3.7 0.1-7.7 0.3-3.8 0.4-5.8 0.9-3 0.4-5.2 0.2-2.9 0.5-5.1 1.5-3.1 0.9-5.8 2-2.8 0.9-4.1 1.2-0.9 1 0.9 2.4 0.7 1.2 1.2 2.3 1.8-0.1 5.2-2.6 2.8-1.7 5.2-3.6 2.5-1.6 3.9-2.3 2.2-0.9 3.8-1.1 1.1-0.3"/>
<path d="M125 145.2l1.3 0.6 4.4 2.4 2.9 0.7 5.8 0.2 2.9 0.7 4.5 2.2 4.2 0.6 10.3 0 3.3-0.4 1.2-1.6-0.3-1.2-2.6-2.8 0.7-2.5 5.2-6.3 2.3-1.3 3.2 1.3 2.2 1.3 4.4 3.2 2.4 0.8 3.9-0.4 2-1.3 3.2-4.1 2.9-2.1 7-3.2 4.2-1.6 7.7-2.6 3.6-1.8 5.2-3.8 2.7-1.5 4.4-1.2 2.6-0.9 4.5-2 2.4-0.1 3.8 1.6 2.5 0 5.2-1.6 2.9 0.2 5.1 2.4 2.9 1 5.2 1.2 3.1 0.8 5.9 1.3 2.5 1.2 2.9 2.9 1.7 1.9 3.4 3.8 1.3 2.2 1.6 4 0.5 2.4 0.2 4.8-0.2 2.8-0.8 4.8-0.3 1.4"/>
<path d="M284.5 55.7l-0.2 1.4-0.5 5.1-0.4 3-0.7 5.9-0.7 2.4-1.9 2.9-0.6 2.6-0.3 6.6 0.2 3.4 1.1 5.8 0.7 2 1.4 1.5 1.5 0.4 4.1 0 1.7-0.7 2.2-2.6 0.6-0.7"/>
<path d="M292.1 55.7l0 2.6 0 9.5 0.4 3.3 1.4 2.5 1 1.4 2.2 2.6 0.6 1.9 0 4.4 0.4 1.8 1.2 2.2 0.4 0.6"/>
<path d="M315.9 78.3l-0.5-0.5-1.9-1.8-1.2-1.2-2.5-2.6-0.3-1.7 1.4-3.6 1.1-1.6 2.6-2.2 1.7-0.9 3.7-1.1 1.7 0.8 2.5 4 0.9 0.3 0.8-2.9 0.1-1.8-0.4-3.7-0.1-1"/>
<path d="M331.7 55.7l-0.1 0.9-0.3 3.3-0.5 1-1.2 0.3-0.4 0.1"/>
<path d="M178.6 200l-0.4 0.8-1.4 2.9-0.1 1.9 0.9 3.8 1 1.9 2.3 3 1.4 1.6 2.4 2.9 0.9 1.8 0.5 3.4 0 1.9-0.8 3.2-0.6 1.3-1.2 1.6-1.3 0.7-3.2 0.6-2 0.5-3.8 0.9-1.6 0.9-1.6 1.9-0.8 1.5-1.2 3.2-0.7 1.8-0.9 3.2-0.5 1.5-0.6 2.3 0.2 0.7 1.6 0.3 1.3-0.2 2.9-0.9 1.5-0.8 2.6-2 1.2-1.1 2-2.3 1-1.3 2-2.6 1-0.5 2 0.6 1.1 0.2 2.4 0 1 0.3 1.7 0.9 0.8 1 1.2 2.6-0.1 1.1-2 1.6-1.1 0.7-1.9 0.6-0.8 0.7-0.6 1.6-0.2 0.4"/>
<path d="M181 245.5l0.5-0.3 2-1.1 1.2-0.3 2.6 0.2 0.7 0"/>
<path d="M207.2 200l-1.1 0.5-3.8 2-1.2 1.3-0.6 2.9 0.2 1.6 0.9 2.9 0.4 1.5 0.6 2.4 1.4 1.2 4.8 2 2.4 0.8 3.3 0.9 0.9 1.1-0.5 2.9-0.4 1.5-1 2.4-0.3 0.7"/>
<path d="M186.3 224l-0.4-1-1.2-3.5-1.5-2.1-3.9-3.9-1.5-2.5-1.2-5.2 0.3-2.8 2.6-5.2 2.5-2.7 6.5-4.4 2.9-0.9 3.8 1.2 2.5 0.8 5.2 1.2 2.7 1.3 4.5 3.2 0 1.4-4.5 2-2 1.6-2.6 3.8-0.7 1.1"/>
<path d="M185.2 257l-0.4 0.4-1.3 1.3-0.9 1.3-2 3.3-1 1.8-2 3.2-0.9 1.6-1.2 2.6-1.3 1.6-3.2 3.2-1.8 1.7-3.2 2.9-1.6 1.4-2.6 2.1-1.2 1-2 1.4-0.9 0.9-1.2 2-0.8 1.5-1.4 3.8-0.8 2.1-1.5 3.9-1.2 1.3-2.9 0.8-1.4 0.5-2.1 1.2-0.9 1.5-0.9 4.4 0 2.1 1.2 3.4 0.7 2 1.5 3.9 0.7 2 0.9 3.4-0.7 1.9-3.3 3.3-0.6 2.1 1.4 3.8 0.7 2.2 1 3.8 0.6 2.5 0.9 4.8 0.4 2.7 0.2 4.8-0.1 2.5-0.8 3.8-0.7 2.2-2 3.9-1 2.4-2 4.5-1 2.8-2 5.1-1 2.4-1.7 3.2-0.5 2.5 0 5.8 0.2 1.9 0.9 1.1-0.3 1.5-1.7 4.2-0.5 1.8 0.2 2.4 0.2 1.3 0.8 2.7 0.3 2.6 0.2 6.8 0.6 3.1 2 4.4 0.4 2.1-0.5 3.4-0.6 2-2 3.9-1.3 2.3-3 4.3-1.9 2.3-3.8 3.9-1.1 1.1"/>
<path d="M124.5 404.1l0.8-0.2 2.9-0.8 2-0.1 4.4 0.2 1.2 0.1"/>
<path d="M174.1 253.1l-0.7 0.4-2.6 1.2-1.6 0.9-3.2 2-1.5 1.2-2.4 2.6-0.8 1.6-0.6 3.3-0.3 1.8-0.3 3.2-0.3 1.8-0.6 3.2-0.3 1.8-0.2 3.2 0.1 0.6 0.6-0.9 0.5-1.1 0.8-2.9 1-1.3 2.7-2 1.6-1.4 3.2-3.2 1.8-1.5 3.2-2.3 1.6-1.2 2.6-2.4 1.4-1.2 2.6-2.3 0.7-0.6"/>
</g>
<rect x="124" y="55" width="551" height="509" fill="none" stroke="#000" stroke-width="2" shape-rendering="crispEdges"/>
<g stroke="#000" stroke-width="1" shape-rendering="crispEdges">
<line x1="124.5" y1="565" x2="124.5" y2="568"/>
<line x1="194.5" y1="565" x2="194.5" y2="568"/>
<line x1="265.5" y1="565" x2="265.5" y2="568"/>
<line x1="336.5" y1="565" x2="336.5" y2="568"/>
<line x1="407.5" y1="565" x2="407.5" y2="568"/>
<line x1="477.5" y1="565" x2="477.5" y2="568"/>
<line x1="548.5" y1="565" x2="548.5" y2="568"/>
<line x1="619.5" y1="565" x2="619.5" y2="568"/>
<line x1="120" y1="106.5" x2="123" y2="106.5"/>
<line x1="120" y1="191.5" x2="123" y2="191.5"/>
<line x1="120" y1="276.5" x2="123" y2="276.5"/>
<line x1="120" y1="360.5" x2="123" y2="360.5"/>
<line x1="120" y1="445.5" x2="123" y2="445.5"/>
<line x1="120" y1="530.5" x2="123" y2="530.5"/>
</g>
<g shape-rendering="crispEdges">
<rect x="708" y="61.00" width="16" height="6.50" fill="#860000"/>
<rect x="708" y="67.20" width="16" height="6.50" fill="#930000"/>
<rect x="708" y="73.40" width="16" height="6.50" fill="#9f0000"/>
<rect x="708" y="79.60" width="16" height="6.50" fill="#ac0000"/>
<rect x="708" y="85.80" width="16" height="6.50" fill="#b90000"/>
<rect x="708" y="92.00" width="16" height="6.50" fill="#c60000"/>
<rect x="708" y="98.20" width="16" height="6.50" fill="#d20000"/>
<rect x="708" y="104.40" width="16" height="6.50" fill="#df0000"/>
<rect x="708" y="110.60" width="16" height="6.50" fill="#ec0000"/>
<rect x="708" y="116.80" width="16" height="6.50" fill="#f90000"/>
<rect x="708" y="123.00" width="16" height="6.50" fill="#ff0600"/>
<rect x="708" y="129.20" width="16" height="6.50" fill="#ff1300"/>
<rect x="708" y="135.40" width="16" height="6.50" fill="#ff2000"/>
<rect x="708" y="141.60" width="16" height="6.50" fill="#ff2d00"/>
<rect x="708" y="147.80" width="16" height="6.50" fill="#ff3900"/>
<rect x="708" y="154.00" width="16" height="6.50" fill="#ff4600"/>
<rect x="708" y="160.20" width="16" height="6.50" fill="#ff5300"/>
<rect x="708" y="166.40" width="16" height="6.50" fill="#ff6000"/>
<rect x="708" y="172.60" width="16" height="6.50" fill="#ff6c00"/>
<rect x="708" y="178.80" width="16" height="6.50" fill="#ff7900"/>
<rect x="708" y="185.00" width="16" height="6.50" fill="#ff8600"/>
<rect x="708" y="191.20" width="16" height="6.50" fill="#ff9300"/>
<rect x="708" y="197.40" width="16" height="6.50" fill="#ff9f00"/>
<rect x="708" y="203.60" width="16" height="6.50" fill="#ffac00"/>
<rect x="708" y="209.80" width="16" height="6.50" fill="#ffb900"/>
<rect x="708" y="216.00" width="16" height="6.50" fill="#ffc600"/>
<rect x="708" y="222.20" width="16" height="6.50" fill="#ffd200"/>
<rect x="708" y="228.40" width="16" height="6.50" fill="#ffdf00"/>
<rect x="708" y="234.60" width="16" height="6.50" fill="#ffec00"/>
<rect x="708" y="240.80" width="16" height="6.50" fill="#fff900"/>
<rect x="708" y="247.00" width="16" height="6.50" fill="#f9ff06"/>
<rect x="708" y="253.20" width="16" height="6.50" fill="#ecff13"/>
<rect x="708" y="259.40" width="16" height="6.50" fill="#dfff20"/>
<rect x="708" y="265.60" width="16" height="6.50" fill="#d2ff2d"/>
<rect x="708" y="271.80" width="16" height="6.50" fill="#c6ff39"/>
<rect x="708" y="278.00" width="16" height="6.50" fill="#b9ff46"/>
<rect x="708" y="284.20" width="16" height="6.50" fill="#acff53"/>
<rect x="708" y="290.40" width="16" height="6.50" fill="#9fff60"/>
<rect x="708" y="296.60" width="16" height="6.50" fill="#93ff6c"/>
<rect x="708" y="302.80" width="16" height="6.50" fill="#86ff79"/>
<rect x="708" y="309.00" width="16" height="6.50" fill="#79ff86"/>
<rect x="708" y="315.20" width="16" height="6.50" fill="#6cff93"/>
<rect x="708" y="321.40" width="16" height="6.50" fill="#60ff9f"/>
<rect x="708" y="327.60" width="16" height="6.50" fill="#53ffac"/>
<rect x="708" y="333.80" width="16" height="6.50" fill="#46ffb9"/>
<rect x="708" y="340.00" width="16" height="6.50" fill="#39ffc6"/>
<rect x="708" y="346.20" width="16" height="6.50" fill="#2dffd2"/>
<rect x="708" y="352.40" width="16" height="6.50" fill="#20ffdf"/>
<rect x="708" y="358.60" width="16" height="6.50" fill="#13ffec"/>
<rect x="708" y="364.80" width="16" height="6.50" fill="#06fff9"/>
<rect x="708" y="371.00" width="16" height="6.50" fill="#00f9ff"/>
<rect x="708" y="377.20" width="16" height="6.50" fill="#00ecff"/>
<rect x="708" y="383.40" width="16" height="6.50" fill="#00dfff"/>
<rect x="708" y="389.60" width="16" height="6.50" fill="#00d2ff"/>
<rect x="708" y="395.80" width="16" height="6.50" fill="#00c6ff"/>
<rect x="708" y="402.00" width="16" height="6.50" fill="#00b9ff"/>
<rect x="708" y="408.20" width="16" height="6.50" fill="#00acff"/>
<rect x="708" y="414.40" width="16" height="6.50" fill="#009fff"/>
<rect x="708" y="420.60" width="16" height="6.50" fill="#0093ff"/>
<rect x="708" y="426.80" width="16" height="6.50" fill="#0086ff"/>
<rect x="708" y="433.00" width="16" height="6.50" fill="#0079ff"/>
<rect x="708" y="439.20" width="16" height="6.50" fill="#006cff"/>
<rect x="708" y="445.40" width="16" height="6.50" fill="#0060ff"/>
<rect x="708" y="451.60" width="16" height="6.50" fill="#0053ff"/>
<rect x="708" y="457.80" width="16" height="6.50" fill="#0046ff"/>
<rect x="708" y="464.00" width="16" height="6.50" fill="#0039ff"/>
<rect x="708" y="470.20" width="16" height="6.50" fill="#002dff"/>
<rect x="708" y="476.40" width="16" height="6.50" fill="#0020ff"/>
<rect x="708" y="482.60" width="16" height="6.50" fill="#0013ff"/>
<rect x="708" y="488.80" width="16" height="6.50" fill="#0006ff"/>
<rect x="708" y="495.00" width="16" height="6.50" fill="#0000f9"/>
<rect x="708" y="501.20" width="16" height="6.50" fill="#0000ec"/>
<rect x="708" y="507.40" width="16" height="6.50" fill="#0000df"/>
<rect x="708" y="513.60" width="16" height="6.50" fill="#0000d2"/>
<rect x="708" y="519.80" width="16" height="6.50" fill="#0000c6"/>
<rect x="708" y="526.00" width="16" height="6.50" fill="#0000b9"/>
<rect x="708" y="532.20" width="16" height="6.50" fill="#0000ac"/>
<rect x="708" y="538.40" width="16" height="6.50" fill="#00009f"/>
<rect x="708" y="544.60" width="16" height="6.50" fill="#000093"/>
<rect x="708" y="550.80" width="16" height="6.50" fill="#000086"/>
</g>
<text class="ti"><tspan x="22.03" y="42.8" textLength="141.91" lengthAdjust="spacingAndGlyphs">Temperature</tspan> <tspan x="176.77" y="42.8" textLength="108.49" lengthAdjust="spacingAndGlyphs">(Celsius).</tspan> <tspan x="295.62" y="42.8" textLength="51.49" lengthAdjust="spacingAndGlyphs">Date</tspan> <tspan x="360.23" y="42.8" textLength="140.18" lengthAdjust="spacingAndGlyphs">2015.12.29.</tspan> <tspan x="512.1" y="42.8" textLength="51.13" lengthAdjust="spacingAndGlyphs">Time</tspan> <tspan x="577.71" y="42.8" textLength="141.19" lengthAdjust="spacingAndGlyphs">00(h):00(m)</tspan> <tspan x="732.97" y="42.8" textLength="45.13" lengthAdjust="spacingAndGlyphs">GMT</tspan></text>
<text class="ax"><tspan x="321.49" y="605.6" textLength="88.5" lengthAdjust="spacingAndGlyphs">Langitude</tspan> <tspan x="420.83" y="605.6" textLength="57.21" lengthAdjust="spacingAndGlyphs">(East)</tspan></text>
<text class="tk" x="112.01" y="579.9" textLength="24.32" lengthAdjust="spacingAndGlyphs">28.5</text>
<text class="tk" x="187.41" y="579.9" textLength="13.8" lengthAdjust="spacingAndGlyphs">29</text>
<text class="tk" x="253.01" y="579.9" textLength="24.32" lengthAdjust="spacingAndGlyphs">29.5</text>
<text class="tk" x="329.41" y="579.9" textLength="13.8" lengthAdjust="spacingAndGlyphs">30</text>
<text class="tk" x="395.01" y="579.9" textLength="24.32" lengthAdjust="spacingAndGlyphs">30.5</text>
<text class="tk" x="470.41" y="579.9" textLength="13.8" lengthAdjust="spacingAndGlyphs">31</text>
<text class="tk" x="536.01" y="579.9" textLength="24.32" lengthAdjust="spacingAndGlyphs">31.5</text>
<text class="tk" x="612.41" y="579.9" textLength="13.8" lengthAdjust="spacingAndGlyphs">32</text>
<text class="tk" x="93.4" y="111.4" textLength="23.82" lengthAdjust="spacingAndGlyphs">45.5</text>
<text class="tk" x="104.5" y="196.4" textLength="12.98" lengthAdjust="spacingAndGlyphs">45</text>
<text class="tk" x="93.4" y="281.4" textLength="23.82" lengthAdjust="spacingAndGlyphs">44.5</text>
<text class="tk" x="104.5" y="365.4" textLength="12.98" lengthAdjust="spacingAndGlyphs">44</text>
<text class="tk" x="93.4" y="450.4" textLength="23.82" lengthAdjust="spacingAndGlyphs">43.5</text>
<text class="tk" x="104.5" y="535.4" textLength="12.98" lengthAdjust="spacingAndGlyphs">43</text>
<text class="cb" x="734.53" y="73.8" textLength="28" lengthAdjust="spacingAndGlyphs">11.1</text>
<text class="cb" x="734.57" y="190" textLength="27.98" lengthAdjust="spacingAndGlyphs">10.1</text>
<text class="cb" x="733.88" y="312" textLength="30.39" lengthAdjust="spacingAndGlyphs">9.10</text>
<text class="cb" x="733.88" y="434" textLength="30.39" lengthAdjust="spacingAndGlyphs">8.06</text>
<text class="cb" x="733.88" y="556" textLength="30.39" lengthAdjust="spacingAndGlyphs">7.03</text>
<g transform="translate(82.1,383) rotate(-90)">
<text class="ay"><tspan x="-1.95" y="0" textLength="74.42" lengthAdjust="spacingAndGlyphs">Latitude</tspan> <tspan x="83.05" y="0" textLength="63.82" lengthAdjust="spacingAndGlyphs">(North)</tspan></text>
</g>
</svg></body></html>
